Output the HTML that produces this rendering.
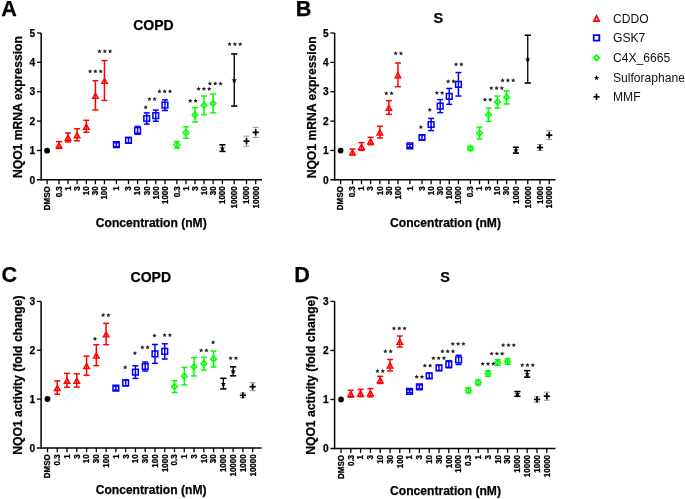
<!DOCTYPE html>
<html><head><meta charset="utf-8"><title>NQO1 figure</title>
<style>
html,body{margin:0;padding:0;background:#fff;}
body{width:685px;height:499px;overflow:hidden;font-family:"Liberation Sans", sans-serif;}
svg{display:block;}
</style></head><body>
<svg width="685" height="499" viewBox="0 0 685 499" font-family="'Liberation Sans', sans-serif">
<rect width="685" height="499" fill="#fff"/>
<defs><filter id="bl" x="-1%" y="-1%" width="102%" height="102%" color-interpolation-filters="sRGB"><feGaussianBlur stdDeviation="0.35"/></filter></defs>
<g filter="url(#bl)">
<line x1="41.15" y1="33" x2="41.15" y2="180.6" stroke="#000" stroke-width="1.5"/>
<line x1="36.95" y1="179.85" x2="262" y2="179.85" stroke="#000" stroke-width="1.5"/>
<text x="35.25" y="183.5" font-size="10.2" font-weight="bold" text-anchor="end" fill="#000" stroke="#000" stroke-width="0.25">0</text>
<line x1="36.95" y1="150.48" x2="41.15" y2="150.48" stroke="#000" stroke-width="1.3"/>
<text x="35.25" y="154.13" font-size="10.2" font-weight="bold" text-anchor="end" fill="#000" stroke="#000" stroke-width="0.25">1</text>
<line x1="36.95" y1="121.11" x2="41.15" y2="121.11" stroke="#000" stroke-width="1.3"/>
<text x="35.25" y="124.76" font-size="10.2" font-weight="bold" text-anchor="end" fill="#000" stroke="#000" stroke-width="0.25">2</text>
<line x1="36.95" y1="91.74" x2="41.15" y2="91.74" stroke="#000" stroke-width="1.3"/>
<text x="35.25" y="95.39" font-size="10.2" font-weight="bold" text-anchor="end" fill="#000" stroke="#000" stroke-width="0.25">3</text>
<line x1="36.95" y1="62.37" x2="41.15" y2="62.37" stroke="#000" stroke-width="1.3"/>
<text x="35.25" y="66.02" font-size="10.2" font-weight="bold" text-anchor="end" fill="#000" stroke="#000" stroke-width="0.25">4</text>
<line x1="36.95" y1="33" x2="41.15" y2="33" stroke="#000" stroke-width="1.3"/>
<text x="35.25" y="36.65" font-size="10.2" font-weight="bold" text-anchor="end" fill="#000" stroke="#000" stroke-width="0.25">5</text>
<line x1="47.1" y1="179.85" x2="47.1" y2="184.25" stroke="#000" stroke-width="1.3"/>
<text transform="translate(49.94,186.25) rotate(-90) scale(1,1.15)" font-size="8.0" font-weight="bold" text-anchor="end" stroke="#000" stroke-width="0.25">DMSO</text>
<line x1="59" y1="179.85" x2="59" y2="184.25" stroke="#000" stroke-width="1.3"/>
<text transform="translate(61.84,186.25) rotate(-90) scale(1,1.15)" font-size="8.0" font-weight="bold" text-anchor="end" stroke="#000" stroke-width="0.25">0.3</text>
<line x1="68" y1="179.85" x2="68" y2="184.25" stroke="#000" stroke-width="1.3"/>
<text transform="translate(70.84,186.25) rotate(-90) scale(1,1.15)" font-size="8.0" font-weight="bold" text-anchor="end" stroke="#000" stroke-width="0.25">1</text>
<line x1="77.1" y1="179.85" x2="77.1" y2="184.25" stroke="#000" stroke-width="1.3"/>
<text transform="translate(79.94,186.25) rotate(-90) scale(1,1.15)" font-size="8.0" font-weight="bold" text-anchor="end" stroke="#000" stroke-width="0.25">3</text>
<line x1="86.35" y1="179.85" x2="86.35" y2="184.25" stroke="#000" stroke-width="1.3"/>
<text transform="translate(89.19,186.25) rotate(-90) scale(1,1.15)" font-size="8.0" font-weight="bold" text-anchor="end" stroke="#000" stroke-width="0.25">10</text>
<line x1="95.4" y1="179.85" x2="95.4" y2="184.25" stroke="#000" stroke-width="1.3"/>
<text transform="translate(98.24,186.25) rotate(-90) scale(1,1.15)" font-size="8.0" font-weight="bold" text-anchor="end" stroke="#000" stroke-width="0.25">30</text>
<line x1="104.45" y1="179.85" x2="104.45" y2="184.25" stroke="#000" stroke-width="1.3"/>
<text transform="translate(107.29,186.25) rotate(-90) scale(1,1.15)" font-size="8.0" font-weight="bold" text-anchor="end" stroke="#000" stroke-width="0.25">100</text>
<line x1="116.4" y1="179.85" x2="116.4" y2="184.25" stroke="#000" stroke-width="1.3"/>
<text transform="translate(119.24,186.25) rotate(-90) scale(1,1.15)" font-size="8.0" font-weight="bold" text-anchor="end" stroke="#000" stroke-width="0.25">1</text>
<line x1="128.5" y1="179.85" x2="128.5" y2="184.25" stroke="#000" stroke-width="1.3"/>
<text transform="translate(131.34,186.25) rotate(-90) scale(1,1.15)" font-size="8.0" font-weight="bold" text-anchor="end" stroke="#000" stroke-width="0.25">3</text>
<line x1="137.6" y1="179.85" x2="137.6" y2="184.25" stroke="#000" stroke-width="1.3"/>
<text transform="translate(140.44,186.25) rotate(-90) scale(1,1.15)" font-size="8.0" font-weight="bold" text-anchor="end" stroke="#000" stroke-width="0.25">10</text>
<line x1="146.7" y1="179.85" x2="146.7" y2="184.25" stroke="#000" stroke-width="1.3"/>
<text transform="translate(149.54,186.25) rotate(-90) scale(1,1.15)" font-size="8.0" font-weight="bold" text-anchor="end" stroke="#000" stroke-width="0.25">30</text>
<line x1="155.75" y1="179.85" x2="155.75" y2="184.25" stroke="#000" stroke-width="1.3"/>
<text transform="translate(158.59,186.25) rotate(-90) scale(1,1.15)" font-size="8.0" font-weight="bold" text-anchor="end" stroke="#000" stroke-width="0.25">100</text>
<line x1="164.95" y1="179.85" x2="164.95" y2="184.25" stroke="#000" stroke-width="1.3"/>
<text transform="translate(167.79,186.25) rotate(-90) scale(1,1.15)" font-size="8.0" font-weight="bold" text-anchor="end" stroke="#000" stroke-width="0.25">1000</text>
<line x1="176.9" y1="179.85" x2="176.9" y2="184.25" stroke="#000" stroke-width="1.3"/>
<text transform="translate(179.74,186.25) rotate(-90) scale(1,1.15)" font-size="8.0" font-weight="bold" text-anchor="end" stroke="#000" stroke-width="0.25">0.3</text>
<line x1="186" y1="179.85" x2="186" y2="184.25" stroke="#000" stroke-width="1.3"/>
<text transform="translate(188.84,186.25) rotate(-90) scale(1,1.15)" font-size="8.0" font-weight="bold" text-anchor="end" stroke="#000" stroke-width="0.25">1</text>
<line x1="195" y1="179.85" x2="195" y2="184.25" stroke="#000" stroke-width="1.3"/>
<text transform="translate(197.84,186.25) rotate(-90) scale(1,1.15)" font-size="8.0" font-weight="bold" text-anchor="end" stroke="#000" stroke-width="0.25">3</text>
<line x1="204" y1="179.85" x2="204" y2="184.25" stroke="#000" stroke-width="1.3"/>
<text transform="translate(206.84,186.25) rotate(-90) scale(1,1.15)" font-size="8.0" font-weight="bold" text-anchor="end" stroke="#000" stroke-width="0.25">10</text>
<line x1="213.1" y1="179.85" x2="213.1" y2="184.25" stroke="#000" stroke-width="1.3"/>
<text transform="translate(215.94,186.25) rotate(-90) scale(1,1.15)" font-size="8.0" font-weight="bold" text-anchor="end" stroke="#000" stroke-width="0.25">30</text>
<line x1="222.4" y1="179.85" x2="222.4" y2="184.25" stroke="#000" stroke-width="1.3"/>
<text transform="translate(225.24,186.25) rotate(-90) scale(1,1.15)" font-size="8.0" font-weight="bold" text-anchor="end" stroke="#000" stroke-width="0.25">1000</text>
<line x1="234.25" y1="179.85" x2="234.25" y2="184.25" stroke="#000" stroke-width="1.3"/>
<text transform="translate(237.09,186.25) rotate(-90) scale(1,1.15)" font-size="8.0" font-weight="bold" text-anchor="end" stroke="#000" stroke-width="0.25">10000</text>
<line x1="246.5" y1="179.85" x2="246.5" y2="184.25" stroke="#000" stroke-width="1.3"/>
<text transform="translate(249.34,186.25) rotate(-90) scale(1,1.15)" font-size="8.0" font-weight="bold" text-anchor="end" stroke="#000" stroke-width="0.25">1000</text>
<line x1="255.7" y1="179.85" x2="255.7" y2="184.25" stroke="#000" stroke-width="1.3"/>
<text transform="translate(258.54,186.25) rotate(-90) scale(1,1.15)" font-size="8.0" font-weight="bold" text-anchor="end" stroke="#000" stroke-width="0.25">10000</text>
<circle cx="47.1" cy="150.7" r="2.9" fill="#000"/>
<line x1="59" y1="141.6" x2="59" y2="148.4" stroke="#ff0000" stroke-width="1.5"/>
<line x1="56" y1="141.6" x2="62" y2="141.6" stroke="#ff0000" stroke-width="1.5"/>
<line x1="56" y1="148.4" x2="62" y2="148.4" stroke="#ff0000" stroke-width="1.5"/>
<path d="M59,141.4L55,148.6L63,148.6ZM59,144.39L57.46,147.15L60.54,147.15Z" fill="#ff0000" fill-rule="evenodd"/>
<line x1="68" y1="133" x2="68" y2="141.9" stroke="#ff0000" stroke-width="1.5"/>
<line x1="65" y1="133" x2="71" y2="133" stroke="#ff0000" stroke-width="1.5"/>
<line x1="65" y1="141.9" x2="71" y2="141.9" stroke="#ff0000" stroke-width="1.5"/>
<path d="M68,133.85L64,141.05L72,141.05ZM68,136.84L66.46,139.6L69.54,139.6Z" fill="#ff0000" fill-rule="evenodd"/>
<line x1="77.1" y1="128.8" x2="77.1" y2="140.8" stroke="#ff0000" stroke-width="1.5"/>
<line x1="74.1" y1="128.8" x2="80.1" y2="128.8" stroke="#ff0000" stroke-width="1.5"/>
<line x1="74.1" y1="140.8" x2="80.1" y2="140.8" stroke="#ff0000" stroke-width="1.5"/>
<path d="M77.1,131.2L73.1,138.4L81.1,138.4ZM77.1,134.19L75.56,136.95L78.64,136.95Z" fill="#ff0000" fill-rule="evenodd"/>
<line x1="86.35" y1="120.3" x2="86.35" y2="132.3" stroke="#ff0000" stroke-width="1.5"/>
<line x1="83.35" y1="120.3" x2="89.35" y2="120.3" stroke="#ff0000" stroke-width="1.5"/>
<line x1="83.35" y1="132.3" x2="89.35" y2="132.3" stroke="#ff0000" stroke-width="1.5"/>
<path d="M86.35,122.7L82.35,129.9L90.35,129.9ZM86.35,125.69L84.81,128.45L87.89,128.45Z" fill="#ff0000" fill-rule="evenodd"/>
<line x1="95.4" y1="80.7" x2="95.4" y2="109.9" stroke="#ff0000" stroke-width="1.5"/>
<line x1="92.4" y1="80.7" x2="98.4" y2="80.7" stroke="#ff0000" stroke-width="1.5"/>
<line x1="92.4" y1="109.9" x2="98.4" y2="109.9" stroke="#ff0000" stroke-width="1.5"/>
<path d="M95.4,91.7L91.4,98.9L99.4,98.9ZM95.4,94.69L93.86,97.45L96.94,97.45Z" fill="#ff0000" fill-rule="evenodd"/>
<line x1="104.45" y1="60.55" x2="104.45" y2="100.45" stroke="#ff0000" stroke-width="1.5"/>
<line x1="101.45" y1="60.55" x2="107.45" y2="60.55" stroke="#ff0000" stroke-width="1.5"/>
<line x1="101.45" y1="100.45" x2="107.45" y2="100.45" stroke="#ff0000" stroke-width="1.5"/>
<path d="M104.45,76.9L100.45,84.1L108.45,84.1ZM104.45,79.89L102.91,82.65L105.99,82.65Z" fill="#ff0000" fill-rule="evenodd"/>
<line x1="116.4" y1="142.7" x2="116.4" y2="146.7" stroke="#0000ff" stroke-width="1.5"/>
<line x1="113.4" y1="142.7" x2="119.4" y2="142.7" stroke="#0000ff" stroke-width="1.5"/>
<line x1="113.4" y1="146.7" x2="119.4" y2="146.7" stroke="#0000ff" stroke-width="1.5"/>
<path d="M112.8,141.1h7.2v7.2h-7.2ZM114.3,142.6h4.2v4.2h-4.2Z" fill="#0000ff" fill-rule="evenodd"/>
<line x1="128.5" y1="137.5" x2="128.5" y2="143.1" stroke="#0000ff" stroke-width="1.5"/>
<line x1="125.5" y1="137.5" x2="131.5" y2="137.5" stroke="#0000ff" stroke-width="1.5"/>
<line x1="125.5" y1="143.1" x2="131.5" y2="143.1" stroke="#0000ff" stroke-width="1.5"/>
<path d="M124.9,136.7h7.2v7.2h-7.2ZM126.4,138.2h4.2v4.2h-4.2Z" fill="#0000ff" fill-rule="evenodd"/>
<line x1="137.6" y1="126.5" x2="137.6" y2="134.3" stroke="#0000ff" stroke-width="1.5"/>
<line x1="134.6" y1="126.5" x2="140.6" y2="126.5" stroke="#0000ff" stroke-width="1.5"/>
<line x1="134.6" y1="134.3" x2="140.6" y2="134.3" stroke="#0000ff" stroke-width="1.5"/>
<path d="M134,126.8h7.2v7.2h-7.2ZM135.5,128.3h4.2v4.2h-4.2Z" fill="#0000ff" fill-rule="evenodd"/>
<line x1="146.7" y1="112.9" x2="146.7" y2="124.1" stroke="#0000ff" stroke-width="1.5"/>
<line x1="143.7" y1="112.9" x2="149.7" y2="112.9" stroke="#0000ff" stroke-width="1.5"/>
<line x1="143.7" y1="124.1" x2="149.7" y2="124.1" stroke="#0000ff" stroke-width="1.5"/>
<path d="M143.1,114.9h7.2v7.2h-7.2ZM144.6,116.4h4.2v4.2h-4.2Z" fill="#0000ff" fill-rule="evenodd"/>
<line x1="155.75" y1="110.1" x2="155.75" y2="121.3" stroke="#0000ff" stroke-width="1.5"/>
<line x1="152.75" y1="110.1" x2="158.75" y2="110.1" stroke="#0000ff" stroke-width="1.5"/>
<line x1="152.75" y1="121.3" x2="158.75" y2="121.3" stroke="#0000ff" stroke-width="1.5"/>
<path d="M152.15,112.1h7.2v7.2h-7.2ZM153.65,113.6h4.2v4.2h-4.2Z" fill="#0000ff" fill-rule="evenodd"/>
<line x1="164.95" y1="99.9" x2="164.95" y2="110.5" stroke="#0000ff" stroke-width="1.5"/>
<line x1="161.95" y1="99.9" x2="167.95" y2="99.9" stroke="#0000ff" stroke-width="1.5"/>
<line x1="161.95" y1="110.5" x2="167.95" y2="110.5" stroke="#0000ff" stroke-width="1.5"/>
<path d="M161.35,101.6h7.2v7.2h-7.2ZM162.85,103.1h4.2v4.2h-4.2Z" fill="#0000ff" fill-rule="evenodd"/>
<line x1="176.9" y1="141.5" x2="176.9" y2="148.1" stroke="#00ff00" stroke-width="1.5"/>
<line x1="173.9" y1="141.5" x2="179.9" y2="141.5" stroke="#00ff00" stroke-width="1.5"/>
<line x1="173.9" y1="148.1" x2="179.9" y2="148.1" stroke="#00ff00" stroke-width="1.5"/>
<path d="M176.9,140.9L180.8,144.8L176.9,148.7L173,144.8ZM176.9,142.95L178.75,144.8L176.9,146.65L175.05,144.8Z" fill="#00ff00" fill-rule="evenodd"/>
<line x1="186" y1="126.8" x2="186" y2="138.3" stroke="#00ff00" stroke-width="1.5"/>
<line x1="183" y1="126.8" x2="189" y2="126.8" stroke="#00ff00" stroke-width="1.5"/>
<line x1="183" y1="138.3" x2="189" y2="138.3" stroke="#00ff00" stroke-width="1.5"/>
<path d="M186,128.65L189.9,132.55L186,136.45L182.1,132.55ZM186,130.7L187.85,132.55L186,134.4L184.15,132.55Z" fill="#00ff00" fill-rule="evenodd"/>
<line x1="195" y1="107.7" x2="195" y2="122.1" stroke="#00ff00" stroke-width="1.5"/>
<line x1="192" y1="107.7" x2="198" y2="107.7" stroke="#00ff00" stroke-width="1.5"/>
<line x1="192" y1="122.1" x2="198" y2="122.1" stroke="#00ff00" stroke-width="1.5"/>
<path d="M195,111L198.9,114.9L195,118.8L191.1,114.9ZM195,113.05L196.85,114.9L195,116.75L193.15,114.9Z" fill="#00ff00" fill-rule="evenodd"/>
<line x1="204" y1="96" x2="204" y2="114.7" stroke="#00ff00" stroke-width="1.5"/>
<line x1="201" y1="96" x2="207" y2="96" stroke="#00ff00" stroke-width="1.5"/>
<line x1="201" y1="114.7" x2="207" y2="114.7" stroke="#00ff00" stroke-width="1.5"/>
<path d="M204,101.45L207.9,105.35L204,109.25L200.1,105.35ZM204,103.5L205.85,105.35L204,107.2L202.15,105.35Z" fill="#00ff00" fill-rule="evenodd"/>
<line x1="213.1" y1="93.95" x2="213.1" y2="112.85" stroke="#00ff00" stroke-width="1.5"/>
<line x1="210.1" y1="93.95" x2="216.1" y2="93.95" stroke="#00ff00" stroke-width="1.5"/>
<line x1="210.1" y1="112.85" x2="216.1" y2="112.85" stroke="#00ff00" stroke-width="1.5"/>
<path d="M213.1,99.5L217,103.4L213.1,107.3L209.2,103.4ZM213.1,101.55L214.95,103.4L213.1,105.25L211.25,103.4Z" fill="#00ff00" fill-rule="evenodd"/>
<line x1="222.4" y1="144.8" x2="222.4" y2="151.4" stroke="#000000" stroke-width="1.35"/>
<line x1="219.3" y1="144.8" x2="225.5" y2="144.8" stroke="#000000" stroke-width="1.6"/>
<line x1="219.3" y1="151.4" x2="225.5" y2="151.4" stroke="#000000" stroke-width="1.6"/>
<polygon points="222.4,145.5 223.12,147.41 225.16,147.5 223.56,148.78 224.1,150.75 222.4,149.62 220.7,150.75 221.24,148.78 219.64,147.5 221.68,147.41" fill="#000"/>
<line x1="234.25" y1="53.9" x2="234.25" y2="106.1" stroke="#000000" stroke-width="1.35"/>
<line x1="231.15" y1="53.9" x2="237.35" y2="53.9" stroke="#000000" stroke-width="1.6"/>
<line x1="231.15" y1="106.1" x2="237.35" y2="106.1" stroke="#000000" stroke-width="1.6"/>
<polygon points="234.25,77.4 234.97,79.31 237.01,79.4 235.41,80.68 235.95,82.65 234.25,81.52 232.55,82.65 233.09,80.68 231.49,79.4 233.53,79.31" fill="#000"/>
<line x1="246.5" y1="136.2" x2="246.5" y2="146.2" stroke="#9a9a9a" stroke-width="1.0"/>
<line x1="243.55" y1="136.2" x2="249.45" y2="136.2" stroke="#9a9a9a" stroke-width="1.1"/>
<line x1="243.55" y1="146.2" x2="249.45" y2="146.2" stroke="#9a9a9a" stroke-width="1.1"/>
<line x1="243.4" y1="141.2" x2="249.6" y2="141.2" stroke="#000" stroke-width="1.7"/>
<line x1="246.5" y1="138.1" x2="246.5" y2="144.3" stroke="#000" stroke-width="1.7"/>
<line x1="255.7" y1="127.35" x2="255.7" y2="137.45" stroke="#9a9a9a" stroke-width="1.0"/>
<line x1="252.75" y1="127.35" x2="258.65" y2="127.35" stroke="#9a9a9a" stroke-width="1.1"/>
<line x1="252.75" y1="137.45" x2="258.65" y2="137.45" stroke="#9a9a9a" stroke-width="1.1"/>
<line x1="252.6" y1="132.4" x2="258.8" y2="132.4" stroke="#000" stroke-width="1.7"/>
<line x1="255.7" y1="129.3" x2="255.7" y2="135.5" stroke="#000" stroke-width="1.7"/>
<polygon points="90.1,69.2 90.75,70.61 92.29,70.79 91.15,71.84 91.45,73.36 90.1,72.6 88.75,73.36 89.05,71.84 87.91,70.79 89.45,70.61" fill="#252525"/>
<polygon points="95.4,69.2 96.05,70.61 97.59,70.79 96.45,71.84 96.75,73.36 95.4,72.6 94.05,73.36 94.35,71.84 93.21,70.79 94.75,70.61" fill="#252525"/>
<polygon points="100.7,69.2 101.35,70.61 102.89,70.79 101.75,71.84 102.05,73.36 100.7,72.6 99.35,73.36 99.65,71.84 98.51,70.79 100.05,70.61" fill="#252525"/>
<polygon points="99.5,49 100.15,50.41 101.69,50.59 100.55,51.64 100.85,53.16 99.5,52.4 98.15,53.16 98.45,51.64 97.31,50.59 98.85,50.41" fill="#252525"/>
<polygon points="104.8,49 105.45,50.41 106.99,50.59 105.85,51.64 106.15,53.16 104.8,52.4 103.45,53.16 103.75,51.64 102.61,50.59 104.15,50.41" fill="#252525"/>
<polygon points="110.1,49 110.75,50.41 112.29,50.59 111.15,51.64 111.45,53.16 110.1,52.4 108.75,53.16 109.05,51.64 107.91,50.59 109.45,50.41" fill="#252525"/>
<polygon points="145.7,105 146.35,106.41 147.89,106.59 146.75,107.64 147.05,109.16 145.7,108.4 144.35,109.16 144.65,107.64 143.51,106.59 145.05,106.41" fill="#252525"/>
<polygon points="149.35,96.9 150,98.31 151.54,98.49 150.4,99.54 150.7,101.06 149.35,100.3 148,101.06 148.3,99.54 147.16,98.49 148.7,98.31" fill="#252525"/>
<polygon points="154.65,96.9 155.3,98.31 156.84,98.49 155.7,99.54 156,101.06 154.65,100.3 153.3,101.06 153.6,99.54 152.46,98.49 154,98.31" fill="#252525"/>
<polygon points="159.4,89.1 160.05,90.51 161.59,90.69 160.45,91.74 160.75,93.26 159.4,92.5 158.05,93.26 158.35,91.74 157.21,90.69 158.75,90.51" fill="#252525"/>
<polygon points="164.7,89.1 165.35,90.51 166.89,90.69 165.75,91.74 166.05,93.26 164.7,92.5 163.35,93.26 163.65,91.74 162.51,90.69 164.05,90.51" fill="#252525"/>
<polygon points="170,89.1 170.65,90.51 172.19,90.69 171.05,91.74 171.35,93.26 170,92.5 168.65,93.26 168.95,91.74 167.81,90.69 169.35,90.51" fill="#252525"/>
<polygon points="190.25,98.5 190.9,99.91 192.44,100.09 191.3,101.14 191.6,102.66 190.25,101.9 188.9,102.66 189.2,101.14 188.06,100.09 189.6,99.91" fill="#252525"/>
<polygon points="195.55,98.5 196.2,99.91 197.74,100.09 196.6,101.14 196.9,102.66 195.55,101.9 194.2,102.66 194.5,101.14 193.36,100.09 194.9,99.91" fill="#252525"/>
<polygon points="198.6,86.6 199.25,88.01 200.79,88.19 199.65,89.24 199.95,90.76 198.6,90 197.25,90.76 197.55,89.24 196.41,88.19 197.95,88.01" fill="#252525"/>
<polygon points="203.9,86.6 204.55,88.01 206.09,88.19 204.95,89.24 205.25,90.76 203.9,90 202.55,90.76 202.85,89.24 201.71,88.19 203.25,88.01" fill="#252525"/>
<polygon points="209.2,86.6 209.85,88.01 211.39,88.19 210.25,89.24 210.55,90.76 209.2,90 207.85,90.76 208.15,89.24 207.01,88.19 208.55,88.01" fill="#252525"/>
<polygon points="209.9,81.3 210.55,82.71 212.09,82.89 210.95,83.94 211.25,85.46 209.9,84.7 208.55,85.46 208.85,83.94 207.71,82.89 209.25,82.71" fill="#252525"/>
<polygon points="215.2,81.3 215.85,82.71 217.39,82.89 216.25,83.94 216.55,85.46 215.2,84.7 213.85,85.46 214.15,83.94 213.01,82.89 214.55,82.71" fill="#252525"/>
<polygon points="220.5,81.3 221.15,82.71 222.69,82.89 221.55,83.94 221.85,85.46 220.5,84.7 219.15,85.46 219.45,83.94 218.31,82.89 219.85,82.71" fill="#252525"/>
<polygon points="229.6,41.9 230.25,43.31 231.79,43.49 230.65,44.54 230.95,46.06 229.6,45.3 228.25,46.06 228.55,44.54 227.41,43.49 228.95,43.31" fill="#252525"/>
<polygon points="234.9,41.9 235.55,43.31 237.09,43.49 235.95,44.54 236.25,46.06 234.9,45.3 233.55,46.06 233.85,44.54 232.71,43.49 234.25,43.31" fill="#252525"/>
<polygon points="240.2,41.9 240.85,43.31 242.39,43.49 241.25,44.54 241.55,46.06 240.2,45.3 238.85,46.06 239.15,44.54 238.01,43.49 239.55,43.31" fill="#252525"/>
<text x="1.3" y="16.1" font-size="21.6" font-weight="bold" text-anchor="start" fill="#000" stroke="#000" stroke-width="0.25">A</text>
<text x="153.4" y="29.7" font-size="14" font-weight="bold" text-anchor="middle" fill="#000" stroke="#000" stroke-width="0.25">COPD</text>
<text x="22.1" y="107.1" font-size="12.15" font-weight="bold" text-anchor="middle" fill="#000" stroke="#000" stroke-width="0.25" transform="rotate(-90 22.1 107.1)">NQO1 mRNA expression</text>
<text x="151.25" y="226.5" font-size="12.1" font-weight="bold" text-anchor="middle" fill="#000" stroke="#000" stroke-width="0.25">Concentration (nM)</text>
<line x1="334.65" y1="33" x2="334.65" y2="180.6" stroke="#000" stroke-width="1.5"/>
<line x1="330.45" y1="179.85" x2="555.5" y2="179.85" stroke="#000" stroke-width="1.5"/>
<text x="328.75" y="183.5" font-size="10.2" font-weight="bold" text-anchor="end" fill="#000" stroke="#000" stroke-width="0.25">0</text>
<line x1="330.45" y1="150.48" x2="334.65" y2="150.48" stroke="#000" stroke-width="1.3"/>
<text x="328.75" y="154.13" font-size="10.2" font-weight="bold" text-anchor="end" fill="#000" stroke="#000" stroke-width="0.25">1</text>
<line x1="330.45" y1="121.11" x2="334.65" y2="121.11" stroke="#000" stroke-width="1.3"/>
<text x="328.75" y="124.76" font-size="10.2" font-weight="bold" text-anchor="end" fill="#000" stroke="#000" stroke-width="0.25">2</text>
<line x1="330.45" y1="91.74" x2="334.65" y2="91.74" stroke="#000" stroke-width="1.3"/>
<text x="328.75" y="95.39" font-size="10.2" font-weight="bold" text-anchor="end" fill="#000" stroke="#000" stroke-width="0.25">3</text>
<line x1="330.45" y1="62.37" x2="334.65" y2="62.37" stroke="#000" stroke-width="1.3"/>
<text x="328.75" y="66.02" font-size="10.2" font-weight="bold" text-anchor="end" fill="#000" stroke="#000" stroke-width="0.25">4</text>
<line x1="330.45" y1="33" x2="334.65" y2="33" stroke="#000" stroke-width="1.3"/>
<text x="328.75" y="36.65" font-size="10.2" font-weight="bold" text-anchor="end" fill="#000" stroke="#000" stroke-width="0.25">5</text>
<line x1="340.6" y1="179.85" x2="340.6" y2="184.25" stroke="#000" stroke-width="1.3"/>
<text transform="translate(343.44,186.25) rotate(-90) scale(1,1.15)" font-size="8.0" font-weight="bold" text-anchor="end" stroke="#000" stroke-width="0.25">DMSO</text>
<line x1="352.5" y1="179.85" x2="352.5" y2="184.25" stroke="#000" stroke-width="1.3"/>
<text transform="translate(355.34,186.25) rotate(-90) scale(1,1.15)" font-size="8.0" font-weight="bold" text-anchor="end" stroke="#000" stroke-width="0.25">0.3</text>
<line x1="361.5" y1="179.85" x2="361.5" y2="184.25" stroke="#000" stroke-width="1.3"/>
<text transform="translate(364.34,186.25) rotate(-90) scale(1,1.15)" font-size="8.0" font-weight="bold" text-anchor="end" stroke="#000" stroke-width="0.25">1</text>
<line x1="370.6" y1="179.85" x2="370.6" y2="184.25" stroke="#000" stroke-width="1.3"/>
<text transform="translate(373.44,186.25) rotate(-90) scale(1,1.15)" font-size="8.0" font-weight="bold" text-anchor="end" stroke="#000" stroke-width="0.25">3</text>
<line x1="379.85" y1="179.85" x2="379.85" y2="184.25" stroke="#000" stroke-width="1.3"/>
<text transform="translate(382.69,186.25) rotate(-90) scale(1,1.15)" font-size="8.0" font-weight="bold" text-anchor="end" stroke="#000" stroke-width="0.25">10</text>
<line x1="388.9" y1="179.85" x2="388.9" y2="184.25" stroke="#000" stroke-width="1.3"/>
<text transform="translate(391.74,186.25) rotate(-90) scale(1,1.15)" font-size="8.0" font-weight="bold" text-anchor="end" stroke="#000" stroke-width="0.25">30</text>
<line x1="397.95" y1="179.85" x2="397.95" y2="184.25" stroke="#000" stroke-width="1.3"/>
<text transform="translate(400.79,186.25) rotate(-90) scale(1,1.15)" font-size="8.0" font-weight="bold" text-anchor="end" stroke="#000" stroke-width="0.25">100</text>
<line x1="409.9" y1="179.85" x2="409.9" y2="184.25" stroke="#000" stroke-width="1.3"/>
<text transform="translate(412.74,186.25) rotate(-90) scale(1,1.15)" font-size="8.0" font-weight="bold" text-anchor="end" stroke="#000" stroke-width="0.25">1</text>
<line x1="422" y1="179.85" x2="422" y2="184.25" stroke="#000" stroke-width="1.3"/>
<text transform="translate(424.84,186.25) rotate(-90) scale(1,1.15)" font-size="8.0" font-weight="bold" text-anchor="end" stroke="#000" stroke-width="0.25">3</text>
<line x1="431.1" y1="179.85" x2="431.1" y2="184.25" stroke="#000" stroke-width="1.3"/>
<text transform="translate(433.94,186.25) rotate(-90) scale(1,1.15)" font-size="8.0" font-weight="bold" text-anchor="end" stroke="#000" stroke-width="0.25">10</text>
<line x1="440.2" y1="179.85" x2="440.2" y2="184.25" stroke="#000" stroke-width="1.3"/>
<text transform="translate(443.04,186.25) rotate(-90) scale(1,1.15)" font-size="8.0" font-weight="bold" text-anchor="end" stroke="#000" stroke-width="0.25">30</text>
<line x1="449.25" y1="179.85" x2="449.25" y2="184.25" stroke="#000" stroke-width="1.3"/>
<text transform="translate(452.09,186.25) rotate(-90) scale(1,1.15)" font-size="8.0" font-weight="bold" text-anchor="end" stroke="#000" stroke-width="0.25">100</text>
<line x1="458.45" y1="179.85" x2="458.45" y2="184.25" stroke="#000" stroke-width="1.3"/>
<text transform="translate(461.29,186.25) rotate(-90) scale(1,1.15)" font-size="8.0" font-weight="bold" text-anchor="end" stroke="#000" stroke-width="0.25">1000</text>
<line x1="470.4" y1="179.85" x2="470.4" y2="184.25" stroke="#000" stroke-width="1.3"/>
<text transform="translate(473.24,186.25) rotate(-90) scale(1,1.15)" font-size="8.0" font-weight="bold" text-anchor="end" stroke="#000" stroke-width="0.25">0.3</text>
<line x1="479.5" y1="179.85" x2="479.5" y2="184.25" stroke="#000" stroke-width="1.3"/>
<text transform="translate(482.34,186.25) rotate(-90) scale(1,1.15)" font-size="8.0" font-weight="bold" text-anchor="end" stroke="#000" stroke-width="0.25">1</text>
<line x1="488.5" y1="179.85" x2="488.5" y2="184.25" stroke="#000" stroke-width="1.3"/>
<text transform="translate(491.34,186.25) rotate(-90) scale(1,1.15)" font-size="8.0" font-weight="bold" text-anchor="end" stroke="#000" stroke-width="0.25">3</text>
<line x1="497.5" y1="179.85" x2="497.5" y2="184.25" stroke="#000" stroke-width="1.3"/>
<text transform="translate(500.34,186.25) rotate(-90) scale(1,1.15)" font-size="8.0" font-weight="bold" text-anchor="end" stroke="#000" stroke-width="0.25">10</text>
<line x1="506.6" y1="179.85" x2="506.6" y2="184.25" stroke="#000" stroke-width="1.3"/>
<text transform="translate(509.44,186.25) rotate(-90) scale(1,1.15)" font-size="8.0" font-weight="bold" text-anchor="end" stroke="#000" stroke-width="0.25">30</text>
<line x1="515.9" y1="179.85" x2="515.9" y2="184.25" stroke="#000" stroke-width="1.3"/>
<text transform="translate(518.74,186.25) rotate(-90) scale(1,1.15)" font-size="8.0" font-weight="bold" text-anchor="end" stroke="#000" stroke-width="0.25">1000</text>
<line x1="527.75" y1="179.85" x2="527.75" y2="184.25" stroke="#000" stroke-width="1.3"/>
<text transform="translate(530.59,186.25) rotate(-90) scale(1,1.15)" font-size="8.0" font-weight="bold" text-anchor="end" stroke="#000" stroke-width="0.25">10000</text>
<line x1="540" y1="179.85" x2="540" y2="184.25" stroke="#000" stroke-width="1.3"/>
<text transform="translate(542.84,186.25) rotate(-90) scale(1,1.15)" font-size="8.0" font-weight="bold" text-anchor="end" stroke="#000" stroke-width="0.25">1000</text>
<line x1="549.2" y1="179.85" x2="549.2" y2="184.25" stroke="#000" stroke-width="1.3"/>
<text transform="translate(552.04,186.25) rotate(-90) scale(1,1.15)" font-size="8.0" font-weight="bold" text-anchor="end" stroke="#000" stroke-width="0.25">10000</text>
<circle cx="340.6" cy="150.6" r="2.9" fill="#000"/>
<line x1="352.5" y1="149" x2="352.5" y2="155" stroke="#ff0000" stroke-width="1.5"/>
<line x1="349.5" y1="149" x2="355.5" y2="149" stroke="#ff0000" stroke-width="1.5"/>
<line x1="349.5" y1="155" x2="355.5" y2="155" stroke="#ff0000" stroke-width="1.5"/>
<path d="M352.5,148.4L348.5,155.6L356.5,155.6ZM352.5,151.39L350.96,154.15L354.04,154.15Z" fill="#ff0000" fill-rule="evenodd"/>
<line x1="361.5" y1="142.65" x2="361.5" y2="150.35" stroke="#ff0000" stroke-width="1.5"/>
<line x1="358.5" y1="142.65" x2="364.5" y2="142.65" stroke="#ff0000" stroke-width="1.5"/>
<line x1="358.5" y1="150.35" x2="364.5" y2="150.35" stroke="#ff0000" stroke-width="1.5"/>
<path d="M361.5,142.9L357.5,150.1L365.5,150.1ZM361.5,145.89L359.96,148.65L363.04,148.65Z" fill="#ff0000" fill-rule="evenodd"/>
<line x1="370.6" y1="137.35" x2="370.6" y2="144.65" stroke="#ff0000" stroke-width="1.5"/>
<line x1="367.6" y1="137.35" x2="373.6" y2="137.35" stroke="#ff0000" stroke-width="1.5"/>
<line x1="367.6" y1="144.65" x2="373.6" y2="144.65" stroke="#ff0000" stroke-width="1.5"/>
<path d="M370.6,137.4L366.6,144.6L374.6,144.6ZM370.6,140.39L369.06,143.15L372.14,143.15Z" fill="#ff0000" fill-rule="evenodd"/>
<line x1="379.85" y1="126.3" x2="379.85" y2="137.9" stroke="#ff0000" stroke-width="1.5"/>
<line x1="376.85" y1="126.3" x2="382.85" y2="126.3" stroke="#ff0000" stroke-width="1.5"/>
<line x1="376.85" y1="137.9" x2="382.85" y2="137.9" stroke="#ff0000" stroke-width="1.5"/>
<path d="M379.85,128.5L375.85,135.7L383.85,135.7ZM379.85,131.49L378.31,134.25L381.39,134.25Z" fill="#ff0000" fill-rule="evenodd"/>
<line x1="388.9" y1="100.65" x2="388.9" y2="114.35" stroke="#ff0000" stroke-width="1.5"/>
<line x1="385.9" y1="100.65" x2="391.9" y2="100.65" stroke="#ff0000" stroke-width="1.5"/>
<line x1="385.9" y1="114.35" x2="391.9" y2="114.35" stroke="#ff0000" stroke-width="1.5"/>
<path d="M388.9,103.9L384.9,111.1L392.9,111.1ZM388.9,106.89L387.36,109.65L390.44,109.65Z" fill="#ff0000" fill-rule="evenodd"/>
<line x1="397.95" y1="63" x2="397.95" y2="86.7" stroke="#ff0000" stroke-width="1.5"/>
<line x1="394.95" y1="63" x2="400.95" y2="63" stroke="#ff0000" stroke-width="1.5"/>
<line x1="394.95" y1="86.7" x2="400.95" y2="86.7" stroke="#ff0000" stroke-width="1.5"/>
<path d="M397.95,71.25L393.95,78.45L401.95,78.45ZM397.95,74.24L396.41,77L399.49,77Z" fill="#ff0000" fill-rule="evenodd"/>
<line x1="409.9" y1="144.3" x2="409.9" y2="147.3" stroke="#0000ff" stroke-width="1.5"/>
<line x1="406.9" y1="144.3" x2="412.9" y2="144.3" stroke="#0000ff" stroke-width="1.5"/>
<line x1="406.9" y1="147.3" x2="412.9" y2="147.3" stroke="#0000ff" stroke-width="1.5"/>
<path d="M406.3,142.2h7.2v7.2h-7.2ZM407.8,143.7h4.2v4.2h-4.2Z" fill="#0000ff" fill-rule="evenodd"/>
<line x1="422" y1="135" x2="422" y2="140" stroke="#0000ff" stroke-width="1.5"/>
<line x1="419" y1="135" x2="425" y2="135" stroke="#0000ff" stroke-width="1.5"/>
<line x1="419" y1="140" x2="425" y2="140" stroke="#0000ff" stroke-width="1.5"/>
<path d="M418.4,133.9h7.2v7.2h-7.2ZM419.9,135.4h4.2v4.2h-4.2Z" fill="#0000ff" fill-rule="evenodd"/>
<line x1="431.1" y1="118.45" x2="431.1" y2="130.55" stroke="#0000ff" stroke-width="1.5"/>
<line x1="428.1" y1="118.45" x2="434.1" y2="118.45" stroke="#0000ff" stroke-width="1.5"/>
<line x1="428.1" y1="130.55" x2="434.1" y2="130.55" stroke="#0000ff" stroke-width="1.5"/>
<path d="M427.5,120.9h7.2v7.2h-7.2ZM429,122.4h4.2v4.2h-4.2Z" fill="#0000ff" fill-rule="evenodd"/>
<line x1="440.2" y1="99.55" x2="440.2" y2="112.65" stroke="#0000ff" stroke-width="1.5"/>
<line x1="437.2" y1="99.55" x2="443.2" y2="99.55" stroke="#0000ff" stroke-width="1.5"/>
<line x1="437.2" y1="112.65" x2="443.2" y2="112.65" stroke="#0000ff" stroke-width="1.5"/>
<path d="M436.6,102.5h7.2v7.2h-7.2ZM438.1,104h4.2v4.2h-4.2Z" fill="#0000ff" fill-rule="evenodd"/>
<line x1="449.25" y1="88.45" x2="449.25" y2="104.35" stroke="#0000ff" stroke-width="1.5"/>
<line x1="446.25" y1="88.45" x2="452.25" y2="88.45" stroke="#0000ff" stroke-width="1.5"/>
<line x1="446.25" y1="104.35" x2="452.25" y2="104.35" stroke="#0000ff" stroke-width="1.5"/>
<path d="M445.65,92.8h7.2v7.2h-7.2ZM447.15,94.3h4.2v4.2h-4.2Z" fill="#0000ff" fill-rule="evenodd"/>
<line x1="458.45" y1="72.55" x2="458.45" y2="96.05" stroke="#0000ff" stroke-width="1.5"/>
<line x1="455.45" y1="72.55" x2="461.45" y2="72.55" stroke="#0000ff" stroke-width="1.5"/>
<line x1="455.45" y1="96.05" x2="461.45" y2="96.05" stroke="#0000ff" stroke-width="1.5"/>
<path d="M454.85,80.7h7.2v7.2h-7.2ZM456.35,82.2h4.2v4.2h-4.2Z" fill="#0000ff" fill-rule="evenodd"/>
<line x1="470.4" y1="146.4" x2="470.4" y2="150.4" stroke="#00ff00" stroke-width="1.5"/>
<line x1="467.4" y1="146.4" x2="473.4" y2="146.4" stroke="#00ff00" stroke-width="1.5"/>
<line x1="467.4" y1="150.4" x2="473.4" y2="150.4" stroke="#00ff00" stroke-width="1.5"/>
<path d="M470.4,144.5L474.3,148.4L470.4,152.3L466.5,148.4ZM470.4,146.55L472.25,148.4L470.4,150.25L468.55,148.4Z" fill="#00ff00" fill-rule="evenodd"/>
<line x1="479.5" y1="127.3" x2="479.5" y2="138.9" stroke="#00ff00" stroke-width="1.5"/>
<line x1="476.5" y1="127.3" x2="482.5" y2="127.3" stroke="#00ff00" stroke-width="1.5"/>
<line x1="476.5" y1="138.9" x2="482.5" y2="138.9" stroke="#00ff00" stroke-width="1.5"/>
<path d="M479.5,129.2L483.4,133.1L479.5,137L475.6,133.1ZM479.5,131.25L481.35,133.1L479.5,134.95L477.65,133.1Z" fill="#00ff00" fill-rule="evenodd"/>
<line x1="488.5" y1="107.95" x2="488.5" y2="121.35" stroke="#00ff00" stroke-width="1.5"/>
<line x1="485.5" y1="107.95" x2="491.5" y2="107.95" stroke="#00ff00" stroke-width="1.5"/>
<line x1="485.5" y1="121.35" x2="491.5" y2="121.35" stroke="#00ff00" stroke-width="1.5"/>
<path d="M488.5,110.75L492.4,114.65L488.5,118.55L484.6,114.65ZM488.5,112.8L490.35,114.65L488.5,116.5L486.65,114.65Z" fill="#00ff00" fill-rule="evenodd"/>
<line x1="497.5" y1="96.1" x2="497.5" y2="108.1" stroke="#00ff00" stroke-width="1.5"/>
<line x1="494.5" y1="96.1" x2="500.5" y2="96.1" stroke="#00ff00" stroke-width="1.5"/>
<line x1="494.5" y1="108.1" x2="500.5" y2="108.1" stroke="#00ff00" stroke-width="1.5"/>
<path d="M497.5,98.2L501.4,102.1L497.5,106L493.6,102.1ZM497.5,100.25L499.35,102.1L497.5,103.95L495.65,102.1Z" fill="#00ff00" fill-rule="evenodd"/>
<line x1="506.6" y1="90.85" x2="506.6" y2="103.95" stroke="#00ff00" stroke-width="1.5"/>
<line x1="503.6" y1="90.85" x2="509.6" y2="90.85" stroke="#00ff00" stroke-width="1.5"/>
<line x1="503.6" y1="103.95" x2="509.6" y2="103.95" stroke="#00ff00" stroke-width="1.5"/>
<path d="M506.6,93.5L510.5,97.4L506.6,101.3L502.7,97.4ZM506.6,95.55L508.45,97.4L506.6,99.25L504.75,97.4Z" fill="#00ff00" fill-rule="evenodd"/>
<line x1="515.9" y1="147.3" x2="515.9" y2="153.1" stroke="#000000" stroke-width="1.35"/>
<line x1="512.8" y1="147.3" x2="519" y2="147.3" stroke="#000000" stroke-width="1.6"/>
<line x1="512.8" y1="153.1" x2="519" y2="153.1" stroke="#000000" stroke-width="1.6"/>
<polygon points="515.9,147.6 516.62,149.51 518.66,149.6 517.06,150.88 517.6,152.85 515.9,151.72 514.2,152.85 514.74,150.88 513.14,149.6 515.18,149.51" fill="#000"/>
<line x1="527.75" y1="35.2" x2="527.75" y2="83" stroke="#000000" stroke-width="1.35"/>
<line x1="524.65" y1="35.2" x2="530.85" y2="35.2" stroke="#000000" stroke-width="1.6"/>
<line x1="524.65" y1="83" x2="530.85" y2="83" stroke="#000000" stroke-width="1.6"/>
<polygon points="527.75,56.5 528.47,58.41 530.51,58.5 528.91,59.78 529.45,61.75 527.75,60.62 526.05,61.75 526.59,59.78 524.99,58.5 527.03,58.41" fill="#000"/>
<line x1="540" y1="144.55" x2="540" y2="150.45" stroke="#9a9a9a" stroke-width="1.0"/>
<line x1="537.05" y1="144.55" x2="542.95" y2="144.55" stroke="#9a9a9a" stroke-width="1.1"/>
<line x1="537.05" y1="150.45" x2="542.95" y2="150.45" stroke="#9a9a9a" stroke-width="1.1"/>
<line x1="536.9" y1="147.5" x2="543.1" y2="147.5" stroke="#000" stroke-width="1.7"/>
<line x1="540" y1="144.4" x2="540" y2="150.6" stroke="#000" stroke-width="1.7"/>
<line x1="549.2" y1="130.7" x2="549.2" y2="139.5" stroke="#9a9a9a" stroke-width="1.0"/>
<line x1="546.25" y1="130.7" x2="552.15" y2="130.7" stroke="#9a9a9a" stroke-width="1.1"/>
<line x1="546.25" y1="139.5" x2="552.15" y2="139.5" stroke="#9a9a9a" stroke-width="1.1"/>
<line x1="546.1" y1="135.1" x2="552.3" y2="135.1" stroke="#000" stroke-width="1.7"/>
<line x1="549.2" y1="132" x2="549.2" y2="138.2" stroke="#000" stroke-width="1.7"/>
<polygon points="386.25,91.2 386.9,92.61 388.44,92.79 387.3,93.84 387.6,95.36 386.25,94.6 384.9,95.36 385.2,93.84 384.06,92.79 385.6,92.61" fill="#252525"/>
<polygon points="391.55,91.2 392.2,92.61 393.74,92.79 392.6,93.84 392.9,95.36 391.55,94.6 390.2,95.36 390.5,93.84 389.36,92.79 390.9,92.61" fill="#252525"/>
<polygon points="395.65,51.2 396.3,52.61 397.84,52.79 396.7,53.84 397,55.36 395.65,54.6 394.3,55.36 394.6,53.84 393.46,52.79 395,52.61" fill="#252525"/>
<polygon points="400.95,51.2 401.6,52.61 403.14,52.79 402,53.84 402.3,55.36 400.95,54.6 399.6,55.36 399.9,53.84 398.76,52.79 400.3,52.61" fill="#252525"/>
<polygon points="420.9,124.8 421.55,126.21 423.09,126.39 421.95,127.44 422.25,128.96 420.9,128.2 419.55,128.96 419.85,127.44 418.71,126.39 420.25,126.21" fill="#252525"/>
<polygon points="429.8,107.6 430.45,109.01 431.99,109.19 430.85,110.24 431.15,111.76 429.8,111 428.45,111.76 428.75,110.24 427.61,109.19 429.15,109.01" fill="#252525"/>
<polygon points="436.85,90.7 437.5,92.11 439.04,92.29 437.9,93.34 438.2,94.86 436.85,94.1 435.5,94.86 435.8,93.34 434.66,92.29 436.2,92.11" fill="#252525"/>
<polygon points="442.15,90.7 442.8,92.11 444.34,92.29 443.2,93.34 443.5,94.86 442.15,94.1 440.8,94.86 441.1,93.34 439.96,92.29 441.5,92.11" fill="#252525"/>
<polygon points="448.15,79 448.8,80.41 450.34,80.59 449.2,81.64 449.5,83.16 448.15,82.4 446.8,83.16 447.1,81.64 445.96,80.59 447.5,80.41" fill="#252525"/>
<polygon points="453.45,79 454.1,80.41 455.64,80.59 454.5,81.64 454.8,83.16 453.45,82.4 452.1,83.16 452.4,81.64 451.26,80.59 452.8,80.41" fill="#252525"/>
<polygon points="456.05,62.1 456.7,63.51 458.24,63.69 457.1,64.74 457.4,66.26 456.05,65.5 454.7,66.26 455,64.74 453.86,63.69 455.4,63.51" fill="#252525"/>
<polygon points="461.35,62.1 462,63.51 463.54,63.69 462.4,64.74 462.7,66.26 461.35,65.5 460,66.26 460.3,64.74 459.16,63.69 460.7,63.51" fill="#252525"/>
<polygon points="484.95,97.4 485.6,98.81 487.14,98.99 486,100.04 486.3,101.56 484.95,100.8 483.6,101.56 483.9,100.04 482.76,98.99 484.3,98.81" fill="#252525"/>
<polygon points="490.25,97.4 490.9,98.81 492.44,98.99 491.3,100.04 491.6,101.56 490.25,100.8 488.9,101.56 489.2,100.04 488.06,98.99 489.6,98.81" fill="#252525"/>
<polygon points="491.3,85.9 491.95,87.31 493.49,87.49 492.35,88.54 492.65,90.06 491.3,89.3 489.95,90.06 490.25,88.54 489.11,87.49 490.65,87.31" fill="#252525"/>
<polygon points="496.6,85.9 497.25,87.31 498.79,87.49 497.65,88.54 497.95,90.06 496.6,89.3 495.25,90.06 495.55,88.54 494.41,87.49 495.95,87.31" fill="#252525"/>
<polygon points="501.9,85.9 502.55,87.31 504.09,87.49 502.95,88.54 503.25,90.06 501.9,89.3 500.55,90.06 500.85,88.54 499.71,87.49 501.25,87.31" fill="#252525"/>
<polygon points="502.6,78.1 503.25,79.51 504.79,79.69 503.65,80.74 503.95,82.26 502.6,81.5 501.25,82.26 501.55,80.74 500.41,79.69 501.95,79.51" fill="#252525"/>
<polygon points="507.9,78.1 508.55,79.51 510.09,79.69 508.95,80.74 509.25,82.26 507.9,81.5 506.55,82.26 506.85,80.74 505.71,79.69 507.25,79.51" fill="#252525"/>
<polygon points="513.2,78.1 513.85,79.51 515.39,79.69 514.25,80.74 514.55,82.26 513.2,81.5 511.85,82.26 512.15,80.74 511.01,79.69 512.55,79.51" fill="#252525"/>
<text x="295.8" y="16.2" font-size="21.6" font-weight="bold" text-anchor="start" fill="#000" stroke="#000" stroke-width="0.25">B</text>
<text x="438.3" y="23.1" font-size="14.5" font-weight="bold" text-anchor="middle" fill="#000" stroke="#000" stroke-width="0.25">S</text>
<text x="315.9" y="107.4" font-size="12.15" font-weight="bold" text-anchor="middle" fill="#000" stroke="#000" stroke-width="0.25" transform="rotate(-90 315.9 107.4)">NQO1 mRNA expression</text>
<text x="445.5" y="226.8" font-size="12.1" font-weight="bold" text-anchor="middle" fill="#000" stroke="#000" stroke-width="0.25">Concentration (nM)</text>
<line x1="41.1" y1="301.45" x2="41.1" y2="448.65" stroke="#000" stroke-width="1.5"/>
<line x1="36.9" y1="447.9" x2="261.6" y2="447.9" stroke="#000" stroke-width="1.5"/>
<text x="35.2" y="451.55" font-size="10.2" font-weight="bold" text-anchor="end" fill="#000" stroke="#000" stroke-width="0.25">0</text>
<line x1="36.9" y1="399.08" x2="41.1" y2="399.08" stroke="#000" stroke-width="1.3"/>
<text x="35.2" y="402.73" font-size="10.2" font-weight="bold" text-anchor="end" fill="#000" stroke="#000" stroke-width="0.25">1</text>
<line x1="36.9" y1="350.26" x2="41.1" y2="350.26" stroke="#000" stroke-width="1.3"/>
<text x="35.2" y="353.91" font-size="10.2" font-weight="bold" text-anchor="end" fill="#000" stroke="#000" stroke-width="0.25">2</text>
<line x1="36.9" y1="301.44" x2="41.1" y2="301.44" stroke="#000" stroke-width="1.3"/>
<text x="35.2" y="305.09" font-size="10.2" font-weight="bold" text-anchor="end" fill="#000" stroke="#000" stroke-width="0.25">3</text>
<line x1="47.5" y1="447.9" x2="47.5" y2="452.3" stroke="#000" stroke-width="1.3"/>
<text transform="translate(50.34,454.3) rotate(-90) scale(1,1.15)" font-size="8.0" font-weight="bold" text-anchor="end" stroke="#000" stroke-width="0.25">DMSO</text>
<line x1="57.27" y1="447.9" x2="57.27" y2="452.3" stroke="#000" stroke-width="1.3"/>
<text transform="translate(60.11,454.3) rotate(-90) scale(1,1.15)" font-size="8.0" font-weight="bold" text-anchor="end" stroke="#000" stroke-width="0.25">0.3</text>
<line x1="67.04" y1="447.9" x2="67.04" y2="452.3" stroke="#000" stroke-width="1.3"/>
<text transform="translate(69.88,454.3) rotate(-90) scale(1,1.15)" font-size="8.0" font-weight="bold" text-anchor="end" stroke="#000" stroke-width="0.25">1</text>
<line x1="76.81" y1="447.9" x2="76.81" y2="452.3" stroke="#000" stroke-width="1.3"/>
<text transform="translate(79.65,454.3) rotate(-90) scale(1,1.15)" font-size="8.0" font-weight="bold" text-anchor="end" stroke="#000" stroke-width="0.25">3</text>
<line x1="86.58" y1="447.9" x2="86.58" y2="452.3" stroke="#000" stroke-width="1.3"/>
<text transform="translate(89.42,454.3) rotate(-90) scale(1,1.15)" font-size="8.0" font-weight="bold" text-anchor="end" stroke="#000" stroke-width="0.25">10</text>
<line x1="96.35" y1="447.9" x2="96.35" y2="452.3" stroke="#000" stroke-width="1.3"/>
<text transform="translate(99.19,454.3) rotate(-90) scale(1,1.15)" font-size="8.0" font-weight="bold" text-anchor="end" stroke="#000" stroke-width="0.25">30</text>
<line x1="106.12" y1="447.9" x2="106.12" y2="452.3" stroke="#000" stroke-width="1.3"/>
<text transform="translate(108.96,454.3) rotate(-90) scale(1,1.15)" font-size="8.0" font-weight="bold" text-anchor="end" stroke="#000" stroke-width="0.25">100</text>
<line x1="115.89" y1="447.9" x2="115.89" y2="452.3" stroke="#000" stroke-width="1.3"/>
<text transform="translate(118.73,454.3) rotate(-90) scale(1,1.15)" font-size="8.0" font-weight="bold" text-anchor="end" stroke="#000" stroke-width="0.25">1</text>
<line x1="125.66" y1="447.9" x2="125.66" y2="452.3" stroke="#000" stroke-width="1.3"/>
<text transform="translate(128.5,454.3) rotate(-90) scale(1,1.15)" font-size="8.0" font-weight="bold" text-anchor="end" stroke="#000" stroke-width="0.25">3</text>
<line x1="135.43" y1="447.9" x2="135.43" y2="452.3" stroke="#000" stroke-width="1.3"/>
<text transform="translate(138.27,454.3) rotate(-90) scale(1,1.15)" font-size="8.0" font-weight="bold" text-anchor="end" stroke="#000" stroke-width="0.25">10</text>
<line x1="145.2" y1="447.9" x2="145.2" y2="452.3" stroke="#000" stroke-width="1.3"/>
<text transform="translate(148.04,454.3) rotate(-90) scale(1,1.15)" font-size="8.0" font-weight="bold" text-anchor="end" stroke="#000" stroke-width="0.25">30</text>
<line x1="154.97" y1="447.9" x2="154.97" y2="452.3" stroke="#000" stroke-width="1.3"/>
<text transform="translate(157.81,454.3) rotate(-90) scale(1,1.15)" font-size="8.0" font-weight="bold" text-anchor="end" stroke="#000" stroke-width="0.25">100</text>
<line x1="164.74" y1="447.9" x2="164.74" y2="452.3" stroke="#000" stroke-width="1.3"/>
<text transform="translate(167.58,454.3) rotate(-90) scale(1,1.15)" font-size="8.0" font-weight="bold" text-anchor="end" stroke="#000" stroke-width="0.25">1000</text>
<line x1="174.51" y1="447.9" x2="174.51" y2="452.3" stroke="#000" stroke-width="1.3"/>
<text transform="translate(177.35,454.3) rotate(-90) scale(1,1.15)" font-size="8.0" font-weight="bold" text-anchor="end" stroke="#000" stroke-width="0.25">0.3</text>
<line x1="184.28" y1="447.9" x2="184.28" y2="452.3" stroke="#000" stroke-width="1.3"/>
<text transform="translate(187.12,454.3) rotate(-90) scale(1,1.15)" font-size="8.0" font-weight="bold" text-anchor="end" stroke="#000" stroke-width="0.25">1</text>
<line x1="194.05" y1="447.9" x2="194.05" y2="452.3" stroke="#000" stroke-width="1.3"/>
<text transform="translate(196.89,454.3) rotate(-90) scale(1,1.15)" font-size="8.0" font-weight="bold" text-anchor="end" stroke="#000" stroke-width="0.25">3</text>
<line x1="203.82" y1="447.9" x2="203.82" y2="452.3" stroke="#000" stroke-width="1.3"/>
<text transform="translate(206.66,454.3) rotate(-90) scale(1,1.15)" font-size="8.0" font-weight="bold" text-anchor="end" stroke="#000" stroke-width="0.25">10</text>
<line x1="213.59" y1="447.9" x2="213.59" y2="452.3" stroke="#000" stroke-width="1.3"/>
<text transform="translate(216.43,454.3) rotate(-90) scale(1,1.15)" font-size="8.0" font-weight="bold" text-anchor="end" stroke="#000" stroke-width="0.25">30</text>
<line x1="223.36" y1="447.9" x2="223.36" y2="452.3" stroke="#000" stroke-width="1.3"/>
<text transform="translate(226.2,454.3) rotate(-90) scale(1,1.15)" font-size="8.0" font-weight="bold" text-anchor="end" stroke="#000" stroke-width="0.25">1000</text>
<line x1="233.13" y1="447.9" x2="233.13" y2="452.3" stroke="#000" stroke-width="1.3"/>
<text transform="translate(235.97,454.3) rotate(-90) scale(1,1.15)" font-size="8.0" font-weight="bold" text-anchor="end" stroke="#000" stroke-width="0.25">10000</text>
<line x1="242.9" y1="447.9" x2="242.9" y2="452.3" stroke="#000" stroke-width="1.3"/>
<text transform="translate(245.74,454.3) rotate(-90) scale(1,1.15)" font-size="8.0" font-weight="bold" text-anchor="end" stroke="#000" stroke-width="0.25">1000</text>
<line x1="252.67" y1="447.9" x2="252.67" y2="452.3" stroke="#000" stroke-width="1.3"/>
<text transform="translate(255.51,454.3) rotate(-90) scale(1,1.15)" font-size="8.0" font-weight="bold" text-anchor="end" stroke="#000" stroke-width="0.25">10000</text>
<circle cx="47.5" cy="399" r="2.9" fill="#000"/>
<line x1="57.27" y1="380.9" x2="57.27" y2="394.3" stroke="#ff0000" stroke-width="1.5"/>
<line x1="54.27" y1="380.9" x2="60.27" y2="380.9" stroke="#ff0000" stroke-width="1.5"/>
<line x1="54.27" y1="394.3" x2="60.27" y2="394.3" stroke="#ff0000" stroke-width="1.5"/>
<path d="M57.27,384L53.27,391.2L61.27,391.2ZM57.27,386.99L55.73,389.75L58.81,389.75Z" fill="#ff0000" fill-rule="evenodd"/>
<line x1="67.04" y1="373.3" x2="67.04" y2="387.3" stroke="#ff0000" stroke-width="1.5"/>
<line x1="64.04" y1="373.3" x2="70.04" y2="373.3" stroke="#ff0000" stroke-width="1.5"/>
<line x1="64.04" y1="387.3" x2="70.04" y2="387.3" stroke="#ff0000" stroke-width="1.5"/>
<path d="M67.04,376.7L63.04,383.9L71.04,383.9ZM67.04,379.69L65.5,382.45L68.58,382.45Z" fill="#ff0000" fill-rule="evenodd"/>
<line x1="76.81" y1="373.8" x2="76.81" y2="387.1" stroke="#ff0000" stroke-width="1.5"/>
<line x1="73.81" y1="373.8" x2="79.81" y2="373.8" stroke="#ff0000" stroke-width="1.5"/>
<line x1="73.81" y1="387.1" x2="79.81" y2="387.1" stroke="#ff0000" stroke-width="1.5"/>
<path d="M76.81,376.85L72.81,384.05L80.81,384.05ZM76.81,379.84L75.27,382.6L78.35,382.6Z" fill="#ff0000" fill-rule="evenodd"/>
<line x1="86.58" y1="356.1" x2="86.58" y2="375.3" stroke="#ff0000" stroke-width="1.5"/>
<line x1="83.58" y1="356.1" x2="89.58" y2="356.1" stroke="#ff0000" stroke-width="1.5"/>
<line x1="83.58" y1="375.3" x2="89.58" y2="375.3" stroke="#ff0000" stroke-width="1.5"/>
<path d="M86.58,362.1L82.58,369.3L90.58,369.3ZM86.58,365.09L85.04,367.85L88.12,367.85Z" fill="#ff0000" fill-rule="evenodd"/>
<line x1="96.35" y1="344.8" x2="96.35" y2="365.6" stroke="#ff0000" stroke-width="1.5"/>
<line x1="93.35" y1="344.8" x2="99.35" y2="344.8" stroke="#ff0000" stroke-width="1.5"/>
<line x1="93.35" y1="365.6" x2="99.35" y2="365.6" stroke="#ff0000" stroke-width="1.5"/>
<path d="M96.35,351.6L92.35,358.8L100.35,358.8ZM96.35,354.59L94.81,357.35L97.89,357.35Z" fill="#ff0000" fill-rule="evenodd"/>
<line x1="106.12" y1="323.35" x2="106.12" y2="344.65" stroke="#ff0000" stroke-width="1.5"/>
<line x1="103.12" y1="323.35" x2="109.12" y2="323.35" stroke="#ff0000" stroke-width="1.5"/>
<line x1="103.12" y1="344.65" x2="109.12" y2="344.65" stroke="#ff0000" stroke-width="1.5"/>
<path d="M106.12,330.4L102.12,337.6L110.12,337.6ZM106.12,333.39L104.58,336.15L107.66,336.15Z" fill="#ff0000" fill-rule="evenodd"/>
<line x1="115.89" y1="386.2" x2="115.89" y2="390.2" stroke="#0000ff" stroke-width="1.5"/>
<line x1="112.89" y1="386.2" x2="118.89" y2="386.2" stroke="#0000ff" stroke-width="1.5"/>
<line x1="112.89" y1="390.2" x2="118.89" y2="390.2" stroke="#0000ff" stroke-width="1.5"/>
<path d="M112.29,384.6h7.2v7.2h-7.2ZM113.79,386.1h4.2v4.2h-4.2Z" fill="#0000ff" fill-rule="evenodd"/>
<line x1="125.66" y1="379.9" x2="125.66" y2="385.9" stroke="#0000ff" stroke-width="1.5"/>
<line x1="122.66" y1="379.9" x2="128.66" y2="379.9" stroke="#0000ff" stroke-width="1.5"/>
<line x1="122.66" y1="385.9" x2="128.66" y2="385.9" stroke="#0000ff" stroke-width="1.5"/>
<path d="M122.06,379.3h7.2v7.2h-7.2ZM123.56,380.8h4.2v4.2h-4.2Z" fill="#0000ff" fill-rule="evenodd"/>
<line x1="135.43" y1="365.8" x2="135.43" y2="378.4" stroke="#0000ff" stroke-width="1.5"/>
<line x1="132.43" y1="365.8" x2="138.43" y2="365.8" stroke="#0000ff" stroke-width="1.5"/>
<line x1="132.43" y1="378.4" x2="138.43" y2="378.4" stroke="#0000ff" stroke-width="1.5"/>
<path d="M131.83,368.5h7.2v7.2h-7.2ZM133.33,370h4.2v4.2h-4.2Z" fill="#0000ff" fill-rule="evenodd"/>
<line x1="145.2" y1="362" x2="145.2" y2="371" stroke="#0000ff" stroke-width="1.5"/>
<line x1="142.2" y1="362" x2="148.2" y2="362" stroke="#0000ff" stroke-width="1.5"/>
<line x1="142.2" y1="371" x2="148.2" y2="371" stroke="#0000ff" stroke-width="1.5"/>
<path d="M141.6,362.9h7.2v7.2h-7.2ZM143.1,364.4h4.2v4.2h-4.2Z" fill="#0000ff" fill-rule="evenodd"/>
<line x1="154.97" y1="344.45" x2="154.97" y2="363.35" stroke="#0000ff" stroke-width="1.5"/>
<line x1="151.97" y1="344.45" x2="157.97" y2="344.45" stroke="#0000ff" stroke-width="1.5"/>
<line x1="151.97" y1="363.35" x2="157.97" y2="363.35" stroke="#0000ff" stroke-width="1.5"/>
<path d="M151.37,350.3h7.2v7.2h-7.2ZM152.87,351.8h4.2v4.2h-4.2Z" fill="#0000ff" fill-rule="evenodd"/>
<line x1="164.74" y1="343.75" x2="164.74" y2="359.05" stroke="#0000ff" stroke-width="1.5"/>
<line x1="161.74" y1="343.75" x2="167.74" y2="343.75" stroke="#0000ff" stroke-width="1.5"/>
<line x1="161.74" y1="359.05" x2="167.74" y2="359.05" stroke="#0000ff" stroke-width="1.5"/>
<path d="M161.14,347.8h7.2v7.2h-7.2ZM162.64,349.3h4.2v4.2h-4.2Z" fill="#0000ff" fill-rule="evenodd"/>
<line x1="174.51" y1="380.7" x2="174.51" y2="392.5" stroke="#00ff00" stroke-width="1.5"/>
<line x1="171.51" y1="380.7" x2="177.51" y2="380.7" stroke="#00ff00" stroke-width="1.5"/>
<line x1="171.51" y1="392.5" x2="177.51" y2="392.5" stroke="#00ff00" stroke-width="1.5"/>
<path d="M174.51,382.7L178.41,386.6L174.51,390.5L170.61,386.6ZM174.51,384.75L176.36,386.6L174.51,388.45L172.66,386.6Z" fill="#00ff00" fill-rule="evenodd"/>
<line x1="184.28" y1="367.5" x2="184.28" y2="384.9" stroke="#00ff00" stroke-width="1.5"/>
<line x1="181.28" y1="367.5" x2="187.28" y2="367.5" stroke="#00ff00" stroke-width="1.5"/>
<line x1="181.28" y1="384.9" x2="187.28" y2="384.9" stroke="#00ff00" stroke-width="1.5"/>
<path d="M184.28,372.3L188.18,376.2L184.28,380.1L180.38,376.2ZM184.28,374.35L186.13,376.2L184.28,378.05L182.43,376.2Z" fill="#00ff00" fill-rule="evenodd"/>
<line x1="194.05" y1="357.65" x2="194.05" y2="375.95" stroke="#00ff00" stroke-width="1.5"/>
<line x1="191.05" y1="357.65" x2="197.05" y2="357.65" stroke="#00ff00" stroke-width="1.5"/>
<line x1="191.05" y1="375.95" x2="197.05" y2="375.95" stroke="#00ff00" stroke-width="1.5"/>
<path d="M194.05,362.9L197.95,366.8L194.05,370.7L190.15,366.8ZM194.05,364.95L195.9,366.8L194.05,368.65L192.2,366.8Z" fill="#00ff00" fill-rule="evenodd"/>
<line x1="203.82" y1="357.3" x2="203.82" y2="370.1" stroke="#00ff00" stroke-width="1.5"/>
<line x1="200.82" y1="357.3" x2="206.82" y2="357.3" stroke="#00ff00" stroke-width="1.5"/>
<line x1="200.82" y1="370.1" x2="206.82" y2="370.1" stroke="#00ff00" stroke-width="1.5"/>
<path d="M203.82,359.8L207.72,363.7L203.82,367.6L199.92,363.7ZM203.82,361.85L205.67,363.7L203.82,365.55L201.97,363.7Z" fill="#00ff00" fill-rule="evenodd"/>
<line x1="213.59" y1="351.05" x2="213.59" y2="366.95" stroke="#00ff00" stroke-width="1.5"/>
<line x1="210.59" y1="351.05" x2="216.59" y2="351.05" stroke="#00ff00" stroke-width="1.5"/>
<line x1="210.59" y1="366.95" x2="216.59" y2="366.95" stroke="#00ff00" stroke-width="1.5"/>
<path d="M213.59,355.1L217.49,359L213.59,362.9L209.69,359ZM213.59,357.15L215.44,359L213.59,360.85L211.74,359Z" fill="#00ff00" fill-rule="evenodd"/>
<line x1="223.36" y1="378.3" x2="223.36" y2="388.9" stroke="#000000" stroke-width="1.35"/>
<line x1="220.26" y1="378.3" x2="226.46" y2="378.3" stroke="#000000" stroke-width="1.6"/>
<line x1="220.26" y1="388.9" x2="226.46" y2="388.9" stroke="#000000" stroke-width="1.6"/>
<polygon points="223.36,381 224.08,382.91 226.12,383 224.52,384.28 225.06,386.25 223.36,385.12 221.66,386.25 222.2,384.28 220.6,383 222.64,382.91" fill="#000"/>
<line x1="233.13" y1="366.8" x2="233.13" y2="375.8" stroke="#000000" stroke-width="1.35"/>
<line x1="230.03" y1="366.8" x2="236.23" y2="366.8" stroke="#000000" stroke-width="1.6"/>
<line x1="230.03" y1="375.8" x2="236.23" y2="375.8" stroke="#000000" stroke-width="1.6"/>
<polygon points="233.13,368.7 233.85,370.61 235.89,370.7 234.29,371.98 234.83,373.95 233.13,372.82 231.43,373.95 231.97,371.98 230.37,370.7 232.41,370.61" fill="#000"/>
<line x1="242.9" y1="393" x2="242.9" y2="397.6" stroke="#9a9a9a" stroke-width="1.0"/>
<line x1="239.95" y1="393" x2="245.85" y2="393" stroke="#9a9a9a" stroke-width="1.1"/>
<line x1="239.95" y1="397.6" x2="245.85" y2="397.6" stroke="#9a9a9a" stroke-width="1.1"/>
<line x1="239.8" y1="395.3" x2="246" y2="395.3" stroke="#000" stroke-width="1.7"/>
<line x1="242.9" y1="392.2" x2="242.9" y2="398.4" stroke="#000" stroke-width="1.7"/>
<line x1="252.67" y1="382.7" x2="252.67" y2="390.7" stroke="#9a9a9a" stroke-width="1.0"/>
<line x1="249.72" y1="382.7" x2="255.62" y2="382.7" stroke="#9a9a9a" stroke-width="1.1"/>
<line x1="249.72" y1="390.7" x2="255.62" y2="390.7" stroke="#9a9a9a" stroke-width="1.1"/>
<line x1="249.57" y1="386.7" x2="255.77" y2="386.7" stroke="#000" stroke-width="1.7"/>
<line x1="252.67" y1="383.6" x2="252.67" y2="389.8" stroke="#000" stroke-width="1.7"/>
<polygon points="95,336.5 95.65,337.91 97.19,338.09 96.05,339.14 96.35,340.66 95,339.9 93.65,340.66 93.95,339.14 92.81,338.09 94.35,337.91" fill="#252525"/>
<polygon points="103.15,312.9 103.8,314.31 105.34,314.49 104.2,315.54 104.5,317.06 103.15,316.3 101.8,317.06 102.1,315.54 100.96,314.49 102.5,314.31" fill="#252525"/>
<polygon points="108.45,312.9 109.1,314.31 110.64,314.49 109.5,315.54 109.8,317.06 108.45,316.3 107.1,317.06 107.4,315.54 106.26,314.49 107.8,314.31" fill="#252525"/>
<polygon points="125.2,365 125.85,366.41 127.39,366.59 126.25,367.64 126.55,369.16 125.2,368.4 123.85,369.16 124.15,367.64 123.01,366.59 124.55,366.41" fill="#252525"/>
<polygon points="134.9,350.9 135.55,352.31 137.09,352.49 135.95,353.54 136.25,355.06 134.9,354.3 133.55,355.06 133.85,353.54 132.71,352.49 134.25,352.31" fill="#252525"/>
<polygon points="142.35,345 143,346.41 144.54,346.59 143.4,347.64 143.7,349.16 142.35,348.4 141,349.16 141.3,347.64 140.16,346.59 141.7,346.41" fill="#252525"/>
<polygon points="147.65,345 148.3,346.41 149.84,346.59 148.7,347.64 149,349.16 147.65,348.4 146.3,349.16 146.6,347.64 145.46,346.59 147,346.41" fill="#252525"/>
<polygon points="154.5,333.4 155.15,334.81 156.69,334.99 155.55,336.04 155.85,337.56 154.5,336.8 153.15,337.56 153.45,336.04 152.31,334.99 153.85,334.81" fill="#252525"/>
<polygon points="164.65,332.9 165.3,334.31 166.84,334.49 165.7,335.54 166,337.06 164.65,336.3 163.3,337.06 163.6,335.54 162.46,334.49 164,334.31" fill="#252525"/>
<polygon points="169.95,332.9 170.6,334.31 172.14,334.49 171,335.54 171.3,337.06 169.95,336.3 168.6,337.06 168.9,335.54 167.76,334.49 169.3,334.31" fill="#252525"/>
<polygon points="201.15,348.2 201.8,349.61 203.34,349.79 202.2,350.84 202.5,352.36 201.15,351.6 199.8,352.36 200.1,350.84 198.96,349.79 200.5,349.61" fill="#252525"/>
<polygon points="206.45,348.2 207.1,349.61 208.64,349.79 207.5,350.84 207.8,352.36 206.45,351.6 205.1,352.36 205.4,350.84 204.26,349.79 205.8,349.61" fill="#252525"/>
<polygon points="213.1,340.1 213.75,341.51 215.29,341.69 214.15,342.74 214.45,344.26 213.1,343.5 211.75,344.26 212.05,342.74 210.91,341.69 212.45,341.51" fill="#252525"/>
<polygon points="230.65,355.9 231.3,357.31 232.84,357.49 231.7,358.54 232,360.06 230.65,359.3 229.3,360.06 229.6,358.54 228.46,357.49 230,357.31" fill="#252525"/>
<polygon points="235.95,355.9 236.6,357.31 238.14,357.49 237,358.54 237.3,360.06 235.95,359.3 234.6,360.06 234.9,358.54 233.76,357.49 235.3,357.31" fill="#252525"/>
<text x="1.4" y="282.4" font-size="21.6" font-weight="bold" text-anchor="start" fill="#000" stroke="#000" stroke-width="0.25">C</text>
<text x="150.85" y="282.3" font-size="14" font-weight="bold" text-anchor="middle" fill="#000" stroke="#000" stroke-width="0.25">COPD</text>
<text x="21.8" y="375.15" font-size="12.15" font-weight="bold" text-anchor="middle" fill="#000" stroke="#000" stroke-width="0.25" transform="rotate(-90 21.8 375.15)">NQO1 activity (fold change)</text>
<text x="151.1" y="494.3" font-size="12.1" font-weight="bold" text-anchor="middle" fill="#000" stroke="#000" stroke-width="0.25">Concentration (nM)</text>
<line x1="334.6" y1="301.4" x2="334.6" y2="449.3" stroke="#000" stroke-width="1.5"/>
<line x1="330.4" y1="448.55" x2="555.5" y2="448.55" stroke="#000" stroke-width="1.5"/>
<text x="328.7" y="452.2" font-size="10.2" font-weight="bold" text-anchor="end" fill="#000" stroke="#000" stroke-width="0.25">0</text>
<line x1="330.4" y1="399.5" x2="334.6" y2="399.5" stroke="#000" stroke-width="1.3"/>
<text x="328.7" y="403.15" font-size="10.2" font-weight="bold" text-anchor="end" fill="#000" stroke="#000" stroke-width="0.25">1</text>
<line x1="330.4" y1="350.45" x2="334.6" y2="350.45" stroke="#000" stroke-width="1.3"/>
<text x="328.7" y="354.1" font-size="10.2" font-weight="bold" text-anchor="end" fill="#000" stroke="#000" stroke-width="0.25">2</text>
<line x1="330.4" y1="301.4" x2="334.6" y2="301.4" stroke="#000" stroke-width="1.3"/>
<text x="328.7" y="305.05" font-size="10.2" font-weight="bold" text-anchor="end" fill="#000" stroke="#000" stroke-width="0.25">3</text>
<line x1="341" y1="448.55" x2="341" y2="452.95" stroke="#000" stroke-width="1.3"/>
<text transform="translate(343.84,454.95) rotate(-90) scale(1,1.15)" font-size="8.0" font-weight="bold" text-anchor="end" stroke="#000" stroke-width="0.25">DMSO</text>
<line x1="350.8" y1="448.55" x2="350.8" y2="452.95" stroke="#000" stroke-width="1.3"/>
<text transform="translate(353.64,454.95) rotate(-90) scale(1,1.15)" font-size="8.0" font-weight="bold" text-anchor="end" stroke="#000" stroke-width="0.25">0.3</text>
<line x1="360.6" y1="448.55" x2="360.6" y2="452.95" stroke="#000" stroke-width="1.3"/>
<text transform="translate(363.44,454.95) rotate(-90) scale(1,1.15)" font-size="8.0" font-weight="bold" text-anchor="end" stroke="#000" stroke-width="0.25">1</text>
<line x1="370.4" y1="448.55" x2="370.4" y2="452.95" stroke="#000" stroke-width="1.3"/>
<text transform="translate(373.24,454.95) rotate(-90) scale(1,1.15)" font-size="8.0" font-weight="bold" text-anchor="end" stroke="#000" stroke-width="0.25">3</text>
<line x1="380.2" y1="448.55" x2="380.2" y2="452.95" stroke="#000" stroke-width="1.3"/>
<text transform="translate(383.04,454.95) rotate(-90) scale(1,1.15)" font-size="8.0" font-weight="bold" text-anchor="end" stroke="#000" stroke-width="0.25">10</text>
<line x1="390" y1="448.55" x2="390" y2="452.95" stroke="#000" stroke-width="1.3"/>
<text transform="translate(392.84,454.95) rotate(-90) scale(1,1.15)" font-size="8.0" font-weight="bold" text-anchor="end" stroke="#000" stroke-width="0.25">30</text>
<line x1="399.8" y1="448.55" x2="399.8" y2="452.95" stroke="#000" stroke-width="1.3"/>
<text transform="translate(402.64,454.95) rotate(-90) scale(1,1.15)" font-size="8.0" font-weight="bold" text-anchor="end" stroke="#000" stroke-width="0.25">100</text>
<line x1="409.6" y1="448.55" x2="409.6" y2="452.95" stroke="#000" stroke-width="1.3"/>
<text transform="translate(412.44,454.95) rotate(-90) scale(1,1.15)" font-size="8.0" font-weight="bold" text-anchor="end" stroke="#000" stroke-width="0.25">1</text>
<line x1="419.4" y1="448.55" x2="419.4" y2="452.95" stroke="#000" stroke-width="1.3"/>
<text transform="translate(422.24,454.95) rotate(-90) scale(1,1.15)" font-size="8.0" font-weight="bold" text-anchor="end" stroke="#000" stroke-width="0.25">3</text>
<line x1="429.2" y1="448.55" x2="429.2" y2="452.95" stroke="#000" stroke-width="1.3"/>
<text transform="translate(432.04,454.95) rotate(-90) scale(1,1.15)" font-size="8.0" font-weight="bold" text-anchor="end" stroke="#000" stroke-width="0.25">10</text>
<line x1="439" y1="448.55" x2="439" y2="452.95" stroke="#000" stroke-width="1.3"/>
<text transform="translate(441.84,454.95) rotate(-90) scale(1,1.15)" font-size="8.0" font-weight="bold" text-anchor="end" stroke="#000" stroke-width="0.25">30</text>
<line x1="448.8" y1="448.55" x2="448.8" y2="452.95" stroke="#000" stroke-width="1.3"/>
<text transform="translate(451.64,454.95) rotate(-90) scale(1,1.15)" font-size="8.0" font-weight="bold" text-anchor="end" stroke="#000" stroke-width="0.25">100</text>
<line x1="458.6" y1="448.55" x2="458.6" y2="452.95" stroke="#000" stroke-width="1.3"/>
<text transform="translate(461.44,454.95) rotate(-90) scale(1,1.15)" font-size="8.0" font-weight="bold" text-anchor="end" stroke="#000" stroke-width="0.25">1000</text>
<line x1="468.4" y1="448.55" x2="468.4" y2="452.95" stroke="#000" stroke-width="1.3"/>
<text transform="translate(471.24,454.95) rotate(-90) scale(1,1.15)" font-size="8.0" font-weight="bold" text-anchor="end" stroke="#000" stroke-width="0.25">0.3</text>
<line x1="478.2" y1="448.55" x2="478.2" y2="452.95" stroke="#000" stroke-width="1.3"/>
<text transform="translate(481.04,454.95) rotate(-90) scale(1,1.15)" font-size="8.0" font-weight="bold" text-anchor="end" stroke="#000" stroke-width="0.25">1</text>
<line x1="488" y1="448.55" x2="488" y2="452.95" stroke="#000" stroke-width="1.3"/>
<text transform="translate(490.84,454.95) rotate(-90) scale(1,1.15)" font-size="8.0" font-weight="bold" text-anchor="end" stroke="#000" stroke-width="0.25">3</text>
<line x1="497.8" y1="448.55" x2="497.8" y2="452.95" stroke="#000" stroke-width="1.3"/>
<text transform="translate(500.64,454.95) rotate(-90) scale(1,1.15)" font-size="8.0" font-weight="bold" text-anchor="end" stroke="#000" stroke-width="0.25">10</text>
<line x1="507.6" y1="448.55" x2="507.6" y2="452.95" stroke="#000" stroke-width="1.3"/>
<text transform="translate(510.44,454.95) rotate(-90) scale(1,1.15)" font-size="8.0" font-weight="bold" text-anchor="end" stroke="#000" stroke-width="0.25">30</text>
<line x1="517.4" y1="448.55" x2="517.4" y2="452.95" stroke="#000" stroke-width="1.3"/>
<text transform="translate(520.24,454.95) rotate(-90) scale(1,1.15)" font-size="8.0" font-weight="bold" text-anchor="end" stroke="#000" stroke-width="0.25">1000</text>
<line x1="527.2" y1="448.55" x2="527.2" y2="452.95" stroke="#000" stroke-width="1.3"/>
<text transform="translate(530.04,454.95) rotate(-90) scale(1,1.15)" font-size="8.0" font-weight="bold" text-anchor="end" stroke="#000" stroke-width="0.25">10000</text>
<line x1="537" y1="448.55" x2="537" y2="452.95" stroke="#000" stroke-width="1.3"/>
<text transform="translate(539.84,454.95) rotate(-90) scale(1,1.15)" font-size="8.0" font-weight="bold" text-anchor="end" stroke="#000" stroke-width="0.25">1000</text>
<line x1="546.8" y1="448.55" x2="546.8" y2="452.95" stroke="#000" stroke-width="1.3"/>
<text transform="translate(549.64,454.95) rotate(-90) scale(1,1.15)" font-size="8.0" font-weight="bold" text-anchor="end" stroke="#000" stroke-width="0.25">10000</text>
<circle cx="341" cy="399.4" r="2.9" fill="#000"/>
<line x1="350.8" y1="390.3" x2="350.8" y2="397.1" stroke="#ff0000" stroke-width="1.5"/>
<line x1="347.8" y1="390.3" x2="353.8" y2="390.3" stroke="#ff0000" stroke-width="1.5"/>
<line x1="347.8" y1="397.1" x2="353.8" y2="397.1" stroke="#ff0000" stroke-width="1.5"/>
<path d="M350.8,390.1L346.8,397.3L354.8,397.3ZM350.8,393.09L349.26,395.85L352.34,395.85Z" fill="#ff0000" fill-rule="evenodd"/>
<line x1="360.6" y1="389.4" x2="360.6" y2="396.6" stroke="#ff0000" stroke-width="1.5"/>
<line x1="357.6" y1="389.4" x2="363.6" y2="389.4" stroke="#ff0000" stroke-width="1.5"/>
<line x1="357.6" y1="396.6" x2="363.6" y2="396.6" stroke="#ff0000" stroke-width="1.5"/>
<path d="M360.6,389.4L356.6,396.6L364.6,396.6ZM360.6,392.39L359.06,395.15L362.14,395.15Z" fill="#ff0000" fill-rule="evenodd"/>
<line x1="370.4" y1="388.6" x2="370.4" y2="396.9" stroke="#ff0000" stroke-width="1.5"/>
<line x1="367.4" y1="388.6" x2="373.4" y2="388.6" stroke="#ff0000" stroke-width="1.5"/>
<line x1="367.4" y1="396.9" x2="373.4" y2="396.9" stroke="#ff0000" stroke-width="1.5"/>
<path d="M370.4,389.15L366.4,396.35L374.4,396.35ZM370.4,392.14L368.86,394.9L371.94,394.9Z" fill="#ff0000" fill-rule="evenodd"/>
<line x1="380.2" y1="376.35" x2="380.2" y2="383.45" stroke="#ff0000" stroke-width="1.5"/>
<line x1="377.2" y1="376.35" x2="383.2" y2="376.35" stroke="#ff0000" stroke-width="1.5"/>
<line x1="377.2" y1="383.45" x2="383.2" y2="383.45" stroke="#ff0000" stroke-width="1.5"/>
<path d="M380.2,376.3L376.2,383.5L384.2,383.5ZM380.2,379.29L378.66,382.05L381.74,382.05Z" fill="#ff0000" fill-rule="evenodd"/>
<line x1="390" y1="359.5" x2="390" y2="370.9" stroke="#ff0000" stroke-width="1.5"/>
<line x1="387" y1="359.5" x2="393" y2="359.5" stroke="#ff0000" stroke-width="1.5"/>
<line x1="387" y1="370.9" x2="393" y2="370.9" stroke="#ff0000" stroke-width="1.5"/>
<path d="M390,361.6L386,368.8L394,368.8ZM390,364.59L388.46,367.35L391.54,367.35Z" fill="#ff0000" fill-rule="evenodd"/>
<line x1="399.8" y1="336" x2="399.8" y2="347" stroke="#ff0000" stroke-width="1.5"/>
<line x1="396.8" y1="336" x2="402.8" y2="336" stroke="#ff0000" stroke-width="1.5"/>
<line x1="396.8" y1="347" x2="402.8" y2="347" stroke="#ff0000" stroke-width="1.5"/>
<path d="M399.8,337.9L395.8,345.1L403.8,345.1ZM399.8,340.89L398.26,343.65L401.34,343.65Z" fill="#ff0000" fill-rule="evenodd"/>
<line x1="409.6" y1="389.8" x2="409.6" y2="392.8" stroke="#0000ff" stroke-width="1.5"/>
<line x1="406.6" y1="389.8" x2="412.6" y2="389.8" stroke="#0000ff" stroke-width="1.5"/>
<line x1="406.6" y1="392.8" x2="412.6" y2="392.8" stroke="#0000ff" stroke-width="1.5"/>
<path d="M406,387.7h7.2v7.2h-7.2ZM407.5,389.2h4.2v4.2h-4.2Z" fill="#0000ff" fill-rule="evenodd"/>
<line x1="419.4" y1="384.9" x2="419.4" y2="388.9" stroke="#0000ff" stroke-width="1.5"/>
<line x1="416.4" y1="384.9" x2="422.4" y2="384.9" stroke="#0000ff" stroke-width="1.5"/>
<line x1="416.4" y1="388.9" x2="422.4" y2="388.9" stroke="#0000ff" stroke-width="1.5"/>
<path d="M415.8,383.3h7.2v7.2h-7.2ZM417.3,384.8h4.2v4.2h-4.2Z" fill="#0000ff" fill-rule="evenodd"/>
<line x1="429.2" y1="373.3" x2="429.2" y2="378.3" stroke="#0000ff" stroke-width="1.5"/>
<line x1="426.2" y1="373.3" x2="432.2" y2="373.3" stroke="#0000ff" stroke-width="1.5"/>
<line x1="426.2" y1="378.3" x2="432.2" y2="378.3" stroke="#0000ff" stroke-width="1.5"/>
<path d="M425.6,372.2h7.2v7.2h-7.2ZM427.1,373.7h4.2v4.2h-4.2Z" fill="#0000ff" fill-rule="evenodd"/>
<line x1="439" y1="365.4" x2="439" y2="370.4" stroke="#0000ff" stroke-width="1.5"/>
<line x1="436" y1="365.4" x2="442" y2="365.4" stroke="#0000ff" stroke-width="1.5"/>
<line x1="436" y1="370.4" x2="442" y2="370.4" stroke="#0000ff" stroke-width="1.5"/>
<path d="M435.4,364.3h7.2v7.2h-7.2ZM436.9,365.8h4.2v4.2h-4.2Z" fill="#0000ff" fill-rule="evenodd"/>
<line x1="448.8" y1="360.8" x2="448.8" y2="367.8" stroke="#0000ff" stroke-width="1.5"/>
<line x1="445.8" y1="360.8" x2="451.8" y2="360.8" stroke="#0000ff" stroke-width="1.5"/>
<line x1="445.8" y1="367.8" x2="451.8" y2="367.8" stroke="#0000ff" stroke-width="1.5"/>
<path d="M445.2,360.7h7.2v7.2h-7.2ZM446.7,362.2h4.2v4.2h-4.2Z" fill="#0000ff" fill-rule="evenodd"/>
<line x1="458.6" y1="355.3" x2="458.6" y2="364.5" stroke="#0000ff" stroke-width="1.5"/>
<line x1="455.6" y1="355.3" x2="461.6" y2="355.3" stroke="#0000ff" stroke-width="1.5"/>
<line x1="455.6" y1="364.5" x2="461.6" y2="364.5" stroke="#0000ff" stroke-width="1.5"/>
<path d="M455,356.3h7.2v7.2h-7.2ZM456.5,357.8h4.2v4.2h-4.2Z" fill="#0000ff" fill-rule="evenodd"/>
<line x1="468.4" y1="387.9" x2="468.4" y2="392.9" stroke="#00ff00" stroke-width="1.5"/>
<line x1="465.4" y1="387.9" x2="471.4" y2="387.9" stroke="#00ff00" stroke-width="1.5"/>
<line x1="465.4" y1="392.9" x2="471.4" y2="392.9" stroke="#00ff00" stroke-width="1.5"/>
<path d="M468.4,386.5L472.3,390.4L468.4,394.3L464.5,390.4ZM468.4,388.55L470.25,390.4L468.4,392.25L466.55,390.4Z" fill="#00ff00" fill-rule="evenodd"/>
<line x1="478.2" y1="379.9" x2="478.2" y2="384.9" stroke="#00ff00" stroke-width="1.5"/>
<line x1="475.2" y1="379.9" x2="481.2" y2="379.9" stroke="#00ff00" stroke-width="1.5"/>
<line x1="475.2" y1="384.9" x2="481.2" y2="384.9" stroke="#00ff00" stroke-width="1.5"/>
<path d="M478.2,378.5L482.1,382.4L478.2,386.3L474.3,382.4ZM478.2,380.55L480.05,382.4L478.2,384.25L476.35,382.4Z" fill="#00ff00" fill-rule="evenodd"/>
<line x1="488" y1="370.7" x2="488" y2="376.3" stroke="#00ff00" stroke-width="1.5"/>
<line x1="485" y1="370.7" x2="491" y2="370.7" stroke="#00ff00" stroke-width="1.5"/>
<line x1="485" y1="376.3" x2="491" y2="376.3" stroke="#00ff00" stroke-width="1.5"/>
<path d="M488,369.6L491.9,373.5L488,377.4L484.1,373.5ZM488,371.65L489.85,373.5L488,375.35L486.15,373.5Z" fill="#00ff00" fill-rule="evenodd"/>
<line x1="497.8" y1="359.7" x2="497.8" y2="365.3" stroke="#00ff00" stroke-width="1.5"/>
<line x1="494.8" y1="359.7" x2="500.8" y2="359.7" stroke="#00ff00" stroke-width="1.5"/>
<line x1="494.8" y1="365.3" x2="500.8" y2="365.3" stroke="#00ff00" stroke-width="1.5"/>
<path d="M497.8,358.6L501.7,362.5L497.8,366.4L493.9,362.5ZM497.8,360.65L499.65,362.5L497.8,364.35L495.95,362.5Z" fill="#00ff00" fill-rule="evenodd"/>
<line x1="507.6" y1="358.7" x2="507.6" y2="364.3" stroke="#00ff00" stroke-width="1.5"/>
<line x1="504.6" y1="358.7" x2="510.6" y2="358.7" stroke="#00ff00" stroke-width="1.5"/>
<line x1="504.6" y1="364.3" x2="510.6" y2="364.3" stroke="#00ff00" stroke-width="1.5"/>
<path d="M507.6,357.6L511.5,361.5L507.6,365.4L503.7,361.5ZM507.6,359.65L509.45,361.5L507.6,363.35L505.75,361.5Z" fill="#00ff00" fill-rule="evenodd"/>
<line x1="517.4" y1="391.55" x2="517.4" y2="396.25" stroke="#000000" stroke-width="1.35"/>
<line x1="514.3" y1="391.55" x2="520.5" y2="391.55" stroke="#000000" stroke-width="1.6"/>
<line x1="514.3" y1="396.25" x2="520.5" y2="396.25" stroke="#000000" stroke-width="1.6"/>
<polygon points="517.4,391.3 518.12,393.21 520.16,393.3 518.56,394.58 519.1,396.55 517.4,395.42 515.7,396.55 516.24,394.58 514.64,393.3 516.68,393.21" fill="#000"/>
<line x1="527.2" y1="370.65" x2="527.2" y2="377.15" stroke="#000000" stroke-width="1.35"/>
<line x1="524.1" y1="370.65" x2="530.3" y2="370.65" stroke="#000000" stroke-width="1.6"/>
<line x1="524.1" y1="377.15" x2="530.3" y2="377.15" stroke="#000000" stroke-width="1.6"/>
<polygon points="527.2,371.3 527.92,373.21 529.96,373.3 528.36,374.58 528.9,376.55 527.2,375.42 525.5,376.55 526.04,374.58 524.44,373.3 526.48,373.21" fill="#000"/>
<line x1="537" y1="396.65" x2="537" y2="402.15" stroke="#9a9a9a" stroke-width="1.0"/>
<line x1="534.05" y1="396.65" x2="539.95" y2="396.65" stroke="#9a9a9a" stroke-width="1.1"/>
<line x1="534.05" y1="402.15" x2="539.95" y2="402.15" stroke="#9a9a9a" stroke-width="1.1"/>
<line x1="533.9" y1="399.4" x2="540.1" y2="399.4" stroke="#000" stroke-width="1.7"/>
<line x1="537" y1="396.3" x2="537" y2="402.5" stroke="#000" stroke-width="1.7"/>
<line x1="546.8" y1="392.2" x2="546.8" y2="400.2" stroke="#9a9a9a" stroke-width="1.0"/>
<line x1="543.85" y1="392.2" x2="549.75" y2="392.2" stroke="#9a9a9a" stroke-width="1.1"/>
<line x1="543.85" y1="400.2" x2="549.75" y2="400.2" stroke="#9a9a9a" stroke-width="1.1"/>
<line x1="543.7" y1="396.2" x2="549.9" y2="396.2" stroke="#000" stroke-width="1.7"/>
<line x1="546.8" y1="393.1" x2="546.8" y2="399.3" stroke="#000" stroke-width="1.7"/>
<polygon points="377.45,368.8 378.1,370.21 379.64,370.39 378.5,371.44 378.8,372.96 377.45,372.2 376.1,372.96 376.4,371.44 375.26,370.39 376.8,370.21" fill="#252525"/>
<polygon points="382.75,368.8 383.4,370.21 384.94,370.39 383.8,371.44 384.1,372.96 382.75,372.2 381.4,372.96 381.7,371.44 380.56,370.39 382.1,370.21" fill="#252525"/>
<polygon points="385.35,349.1 386,350.51 387.54,350.69 386.4,351.74 386.7,353.26 385.35,352.5 384,353.26 384.3,351.74 383.16,350.69 384.7,350.51" fill="#252525"/>
<polygon points="390.65,349.1 391.3,350.51 392.84,350.69 391.7,351.74 392,353.26 390.65,352.5 389.3,353.26 389.6,351.74 388.46,350.69 390,350.51" fill="#252525"/>
<polygon points="394,326.2 394.65,327.61 396.19,327.79 395.05,328.84 395.35,330.36 394,329.6 392.65,330.36 392.95,328.84 391.81,327.79 393.35,327.61" fill="#252525"/>
<polygon points="399.3,326.2 399.95,327.61 401.49,327.79 400.35,328.84 400.65,330.36 399.3,329.6 397.95,330.36 398.25,328.84 397.11,327.79 398.65,327.61" fill="#252525"/>
<polygon points="404.6,326.2 405.25,327.61 406.79,327.79 405.65,328.84 405.95,330.36 404.6,329.6 403.25,330.36 403.55,328.84 402.41,327.79 403.95,327.61" fill="#252525"/>
<polygon points="416.65,374.5 417.3,375.91 418.84,376.09 417.7,377.14 418,378.66 416.65,377.9 415.3,378.66 415.6,377.14 414.46,376.09 416,375.91" fill="#252525"/>
<polygon points="421.95,374.5 422.6,375.91 424.14,376.09 423,377.14 423.3,378.66 421.95,377.9 420.6,378.66 420.9,377.14 419.76,376.09 421.3,375.91" fill="#252525"/>
<polygon points="424.85,363.3 425.5,364.71 427.04,364.89 425.9,365.94 426.2,367.46 424.85,366.7 423.5,367.46 423.8,365.94 422.66,364.89 424.2,364.71" fill="#252525"/>
<polygon points="430.15,363.3 430.8,364.71 432.34,364.89 431.2,365.94 431.5,367.46 430.15,366.7 428.8,367.46 429.1,365.94 427.96,364.89 429.5,364.71" fill="#252525"/>
<polygon points="433.4,355.9 434.05,357.31 435.59,357.49 434.45,358.54 434.75,360.06 433.4,359.3 432.05,360.06 432.35,358.54 431.21,357.49 432.75,357.31" fill="#252525"/>
<polygon points="438.7,355.9 439.35,357.31 440.89,357.49 439.75,358.54 440.05,360.06 438.7,359.3 437.35,360.06 437.65,358.54 436.51,357.49 438.05,357.31" fill="#252525"/>
<polygon points="444,355.9 444.65,357.31 446.19,357.49 445.05,358.54 445.35,360.06 444,359.3 442.65,360.06 442.95,358.54 441.81,357.49 443.35,357.31" fill="#252525"/>
<polygon points="442.4,349.1 443.05,350.51 444.59,350.69 443.45,351.74 443.75,353.26 442.4,352.5 441.05,353.26 441.35,351.74 440.21,350.69 441.75,350.51" fill="#252525"/>
<polygon points="447.7,349.1 448.35,350.51 449.89,350.69 448.75,351.74 449.05,353.26 447.7,352.5 446.35,353.26 446.65,351.74 445.51,350.69 447.05,350.51" fill="#252525"/>
<polygon points="453,349.1 453.65,350.51 455.19,350.69 454.05,351.74 454.35,353.26 453,352.5 451.65,353.26 451.95,351.74 450.81,350.69 452.35,350.51" fill="#252525"/>
<polygon points="452.8,341.7 453.45,343.11 454.99,343.29 453.85,344.34 454.15,345.86 452.8,345.1 451.45,345.86 451.75,344.34 450.61,343.29 452.15,343.11" fill="#252525"/>
<polygon points="458.1,341.7 458.75,343.11 460.29,343.29 459.15,344.34 459.45,345.86 458.1,345.1 456.75,345.86 457.05,344.34 455.91,343.29 457.45,343.11" fill="#252525"/>
<polygon points="463.4,341.7 464.05,343.11 465.59,343.29 464.45,344.34 464.75,345.86 463.4,345.1 462.05,345.86 462.35,344.34 461.21,343.29 462.75,343.11" fill="#252525"/>
<polygon points="482.7,361.6 483.35,363.01 484.89,363.19 483.75,364.24 484.05,365.76 482.7,365 481.35,365.76 481.65,364.24 480.51,363.19 482.05,363.01" fill="#252525"/>
<polygon points="488,361.6 488.65,363.01 490.19,363.19 489.05,364.24 489.35,365.76 488,365 486.65,365.76 486.95,364.24 485.81,363.19 487.35,363.01" fill="#252525"/>
<polygon points="493.3,361.6 493.95,363.01 495.49,363.19 494.35,364.24 494.65,365.76 493.3,365 491.95,365.76 492.25,364.24 491.11,363.19 492.65,363.01" fill="#252525"/>
<polygon points="491.6,351.4 492.25,352.81 493.79,352.99 492.65,354.04 492.95,355.56 491.6,354.8 490.25,355.56 490.55,354.04 489.41,352.99 490.95,352.81" fill="#252525"/>
<polygon points="496.9,351.4 497.55,352.81 499.09,352.99 497.95,354.04 498.25,355.56 496.9,354.8 495.55,355.56 495.85,354.04 494.71,352.99 496.25,352.81" fill="#252525"/>
<polygon points="502.2,351.4 502.85,352.81 504.39,352.99 503.25,354.04 503.55,355.56 502.2,354.8 500.85,355.56 501.15,354.04 500.01,352.99 501.55,352.81" fill="#252525"/>
<polygon points="503.2,342.9 503.85,344.31 505.39,344.49 504.25,345.54 504.55,347.06 503.2,346.3 501.85,347.06 502.15,345.54 501.01,344.49 502.55,344.31" fill="#252525"/>
<polygon points="508.5,342.9 509.15,344.31 510.69,344.49 509.55,345.54 509.85,347.06 508.5,346.3 507.15,347.06 507.45,345.54 506.31,344.49 507.85,344.31" fill="#252525"/>
<polygon points="513.8,342.9 514.45,344.31 515.99,344.49 514.85,345.54 515.15,347.06 513.8,346.3 512.45,347.06 512.75,345.54 511.61,344.49 513.15,344.31" fill="#252525"/>
<polygon points="522.2,362.8 522.85,364.21 524.39,364.39 523.25,365.44 523.55,366.96 522.2,366.2 520.85,366.96 521.15,365.44 520.01,364.39 521.55,364.21" fill="#252525"/>
<polygon points="527.5,362.8 528.15,364.21 529.69,364.39 528.55,365.44 528.85,366.96 527.5,366.2 526.15,366.96 526.45,365.44 525.31,364.39 526.85,364.21" fill="#252525"/>
<polygon points="532.8,362.8 533.45,364.21 534.99,364.39 533.85,365.44 534.15,366.96 532.8,366.2 531.45,366.96 531.75,365.44 530.61,364.39 532.15,364.21" fill="#252525"/>
<text x="294.3" y="282.1" font-size="21.6" font-weight="bold" text-anchor="start" fill="#000" stroke="#000" stroke-width="0.25">D</text>
<text x="445.1" y="282.4" font-size="14.5" font-weight="bold" text-anchor="middle" fill="#000" stroke="#000" stroke-width="0.25">S</text>
<text x="315.2" y="375.2" font-size="12.15" font-weight="bold" text-anchor="middle" fill="#000" stroke="#000" stroke-width="0.25" transform="rotate(-90 315.2 375.2)">NQO1 activity (fold change)</text>
<text x="445.5" y="494.6" font-size="12.1" font-weight="bold" text-anchor="middle" fill="#000" stroke="#000" stroke-width="0.25">Concentration (nM)</text>
<path d="M596.5,13.9L592.5,21.9L600.5,21.9ZM596.5,17.81L595.33,20.15L597.67,20.15Z" fill="#ff0000" fill-rule="evenodd"/>
<path d="M592.8,34.2h7.4v7.4h-7.4ZM594.6,36h3.8v3.8h-3.8Z" fill="#0000ff" fill-rule="evenodd"/>
<path d="M596.5,53.9L600.4,57.8L596.5,61.7L592.6,57.8ZM596.5,56.3L598,57.8L596.5,59.3L595,57.8Z" fill="#00ff00" fill-rule="evenodd"/>
<polygon points="596.5,75.1 597.19,76.95 599.16,77.03 597.62,78.26 598.15,80.17 596.5,79.08 594.85,80.17 595.38,78.26 593.84,77.03 595.81,76.95" fill="#000"/>
<line x1="593.4" y1="96.8" x2="599.6" y2="96.8" stroke="#000" stroke-width="1.7"/>
<line x1="596.5" y1="93.7" x2="596.5" y2="99.9" stroke="#000" stroke-width="1.7"/>
<text x="613" y="22.7" font-size="12.1" font-weight="normal" text-anchor="start" fill="#111">CDDO</text>
<text x="613" y="42.1" font-size="12.1" font-weight="normal" text-anchor="start" fill="#111">GSK7</text>
<text x="613" y="61.9" font-size="12.1" font-weight="normal" text-anchor="start" fill="#111">C4X_6665</text>
<text x="613" y="81.6" font-size="12.1" font-weight="normal" text-anchor="start" fill="#111">Sulforaphane</text>
<text x="613" y="101.4" font-size="12.1" font-weight="normal" text-anchor="start" fill="#111">MMF</text>
</g>
</svg>
</body></html>
